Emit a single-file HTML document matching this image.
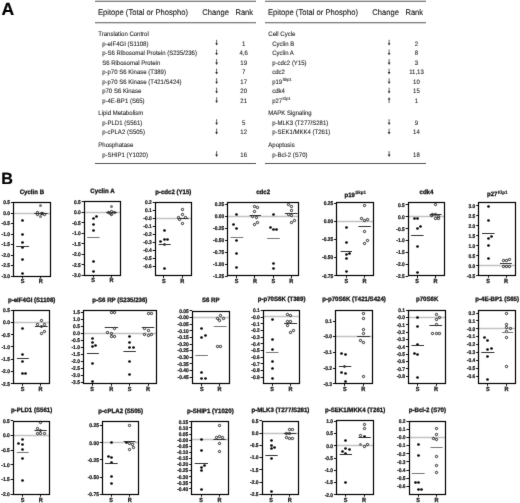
<!DOCTYPE html>
<html><head><meta charset="utf-8"><title>Figure</title>
<style>
html,body{margin:0;padding:0;background:#fff;}
body{width:520px;height:503px;overflow:hidden;}
svg{display:block;font-family:'Liberation Sans', sans-serif;text-rendering:geometricPrecision;}
</style></head><body>
<svg width="520" height="503" viewBox="0 0 520 503" font-family="Liberation Sans, sans-serif">
<defs><filter id="bl" x="0" y="0" width="520" height="503" filterUnits="userSpaceOnUse" color-interpolation-filters="sRGB"><feColorMatrix type="saturate" values="0"/><feConvolveMatrix order="3" kernelMatrix="1 10 1 10 100 10 1 10 1" divisor="144" edgeMode="duplicate"/></filter></defs>
<g filter="url(#bl)">
<rect x="0" y="0" width="520" height="503" fill="#fff"/>
<text transform="translate(1.60,14.60) scale(1,1.0)" font-size="17.6" font-weight="bold" text-anchor="start" fill="#000" stroke="#000" stroke-width="0.2">A</text>
<text transform="translate(1.20,183.90) scale(1,1.0)" font-size="16.2" font-weight="bold" text-anchor="start" fill="#000" stroke="#000" stroke-width="0.2">B</text>
<line x1="95.00" y1="1.30" x2="256.00" y2="1.30" stroke="#555" stroke-width="1.1"/>
<line x1="95.00" y1="22.70" x2="256.00" y2="22.70" stroke="#555" stroke-width="1.1"/>
<line x1="95.00" y1="163.50" x2="256.00" y2="163.50" stroke="#555" stroke-width="1.1"/>
<text transform="translate(98.00,15.20) scale(1,1.08)" font-size="7.6" font-weight="normal" text-anchor="start" fill="#111" stroke="#111" stroke-width="0.08">Epitope (Total or Phospho)</text>
<text transform="translate(202.30,15.20) scale(1,1.08)" font-size="7.6" font-weight="normal" text-anchor="start" fill="#111" stroke="#111" stroke-width="0.08">Change</text>
<text transform="translate(235.40,15.20) scale(1,1.08)" font-size="7.6" font-weight="normal" text-anchor="start" fill="#111" stroke="#111" stroke-width="0.08">Rank</text>
<text transform="translate(98.30,35.80) scale(1,1.08)" font-size="6.0" font-weight="normal" text-anchor="start" fill="#1a1a1a" stroke="#1a1a1a" stroke-width="0.08">Translation Control</text>
<text transform="translate(102.20,45.50) scale(1,1.08)" font-size="6.0" font-weight="normal" text-anchor="start" fill="#1a1a1a" stroke="#1a1a1a" stroke-width="0.08">p-eIF4GI (S1108)</text>
<line x1="216.60" y1="39.80" x2="216.60" y2="44.00" stroke="#444" stroke-width="0.85"/>
<path d="M215.20,43.30 L218.00,43.30 L216.60,45.60 Z" fill="#2a2a2a"/>
<text transform="translate(243.70,45.50) scale(1,1.08)" font-size="6.0" font-weight="normal" text-anchor="middle" fill="#1a1a1a" stroke="#1a1a1a" stroke-width="0.08">1</text>
<text transform="translate(102.20,55.20) scale(1,1.08)" font-size="6.0" font-weight="normal" text-anchor="start" fill="#1a1a1a" stroke="#1a1a1a" stroke-width="0.08">p-S6 Ribosomal Protein (S235/236)</text>
<line x1="216.60" y1="49.50" x2="216.60" y2="53.70" stroke="#444" stroke-width="0.85"/>
<path d="M215.20,53.00 L218.00,53.00 L216.60,55.30 Z" fill="#2a2a2a"/>
<text transform="translate(243.70,55.20) scale(1,1.08)" font-size="6.0" font-weight="normal" text-anchor="middle" fill="#1a1a1a" stroke="#1a1a1a" stroke-width="0.08">4,6</text>
<text transform="translate(102.20,64.80) scale(1,1.08)" font-size="6.0" font-weight="normal" text-anchor="start" fill="#1a1a1a" stroke="#1a1a1a" stroke-width="0.08">S6 Ribosomal Protein</text>
<line x1="216.60" y1="59.10" x2="216.60" y2="63.30" stroke="#444" stroke-width="0.85"/>
<path d="M215.20,62.60 L218.00,62.60 L216.60,64.90 Z" fill="#2a2a2a"/>
<text transform="translate(243.70,64.80) scale(1,1.08)" font-size="6.0" font-weight="normal" text-anchor="middle" fill="#1a1a1a" stroke="#1a1a1a" stroke-width="0.08">19</text>
<text transform="translate(102.20,74.30) scale(1,1.08)" font-size="6.0" font-weight="normal" text-anchor="start" fill="#1a1a1a" stroke="#1a1a1a" stroke-width="0.08">p-p70 S6 Kinase (T389)</text>
<line x1="216.60" y1="68.60" x2="216.60" y2="72.80" stroke="#444" stroke-width="0.85"/>
<path d="M215.20,72.10 L218.00,72.10 L216.60,74.40 Z" fill="#2a2a2a"/>
<text transform="translate(243.70,74.30) scale(1,1.08)" font-size="6.0" font-weight="normal" text-anchor="middle" fill="#1a1a1a" stroke="#1a1a1a" stroke-width="0.08">7</text>
<text transform="translate(102.20,83.90) scale(1,1.08)" font-size="6.0" font-weight="normal" text-anchor="start" fill="#1a1a1a" stroke="#1a1a1a" stroke-width="0.08">p-p70 S6 Kinase (T421/S424)</text>
<line x1="216.60" y1="78.20" x2="216.60" y2="82.40" stroke="#444" stroke-width="0.85"/>
<path d="M215.20,81.70 L218.00,81.70 L216.60,84.00 Z" fill="#2a2a2a"/>
<text transform="translate(243.70,83.90) scale(1,1.08)" font-size="6.0" font-weight="normal" text-anchor="middle" fill="#1a1a1a" stroke="#1a1a1a" stroke-width="0.08">17</text>
<text transform="translate(102.20,93.40) scale(1,1.08)" font-size="6.0" font-weight="normal" text-anchor="start" fill="#1a1a1a" stroke="#1a1a1a" stroke-width="0.08">p70 S6 Kinase</text>
<line x1="216.60" y1="87.70" x2="216.60" y2="91.90" stroke="#444" stroke-width="0.85"/>
<path d="M215.20,91.20 L218.00,91.20 L216.60,93.50 Z" fill="#2a2a2a"/>
<text transform="translate(243.70,93.40) scale(1,1.08)" font-size="6.0" font-weight="normal" text-anchor="middle" fill="#1a1a1a" stroke="#1a1a1a" stroke-width="0.08">20</text>
<text transform="translate(102.20,103.00) scale(1,1.08)" font-size="6.0" font-weight="normal" text-anchor="start" fill="#1a1a1a" stroke="#1a1a1a" stroke-width="0.08">p-4E-BP1 (S65)</text>
<line x1="216.60" y1="97.30" x2="216.60" y2="101.50" stroke="#444" stroke-width="0.85"/>
<path d="M215.20,100.80 L218.00,100.80 L216.60,103.10 Z" fill="#2a2a2a"/>
<text transform="translate(243.70,103.00) scale(1,1.08)" font-size="6.0" font-weight="normal" text-anchor="middle" fill="#1a1a1a" stroke="#1a1a1a" stroke-width="0.08">21</text>
<text transform="translate(98.30,115.00) scale(1,1.08)" font-size="6.0" font-weight="normal" text-anchor="start" fill="#1a1a1a" stroke="#1a1a1a" stroke-width="0.08">Lipid Metabolism</text>
<text transform="translate(102.20,124.90) scale(1,1.08)" font-size="6.0" font-weight="normal" text-anchor="start" fill="#1a1a1a" stroke="#1a1a1a" stroke-width="0.08">p-PLD1 (S561)</text>
<line x1="216.60" y1="119.20" x2="216.60" y2="123.40" stroke="#444" stroke-width="0.85"/>
<path d="M215.20,122.70 L218.00,122.70 L216.60,125.00 Z" fill="#2a2a2a"/>
<text transform="translate(243.70,124.90) scale(1,1.08)" font-size="6.0" font-weight="normal" text-anchor="middle" fill="#1a1a1a" stroke="#1a1a1a" stroke-width="0.08">5</text>
<text transform="translate(102.20,134.30) scale(1,1.08)" font-size="6.0" font-weight="normal" text-anchor="start" fill="#1a1a1a" stroke="#1a1a1a" stroke-width="0.08">p-cPLA2 (S505)</text>
<line x1="216.60" y1="128.60" x2="216.60" y2="132.80" stroke="#444" stroke-width="0.85"/>
<path d="M215.20,132.10 L218.00,132.10 L216.60,134.40 Z" fill="#2a2a2a"/>
<text transform="translate(243.70,134.30) scale(1,1.08)" font-size="6.0" font-weight="normal" text-anchor="middle" fill="#1a1a1a" stroke="#1a1a1a" stroke-width="0.08">12</text>
<text transform="translate(98.30,146.80) scale(1,1.08)" font-size="6.0" font-weight="normal" text-anchor="start" fill="#1a1a1a" stroke="#1a1a1a" stroke-width="0.08">Phosphatase</text>
<text transform="translate(102.20,156.80) scale(1,1.08)" font-size="6.0" font-weight="normal" text-anchor="start" fill="#1a1a1a" stroke="#1a1a1a" stroke-width="0.08">p-SHIP1 (Y1020)</text>
<line x1="216.60" y1="151.10" x2="216.60" y2="155.30" stroke="#444" stroke-width="0.85"/>
<path d="M215.20,154.60 L218.00,154.60 L216.60,156.90 Z" fill="#2a2a2a"/>
<text transform="translate(243.70,156.80) scale(1,1.08)" font-size="6.0" font-weight="normal" text-anchor="middle" fill="#1a1a1a" stroke="#1a1a1a" stroke-width="0.08">16</text>
<line x1="265.00" y1="1.30" x2="426.00" y2="1.30" stroke="#555" stroke-width="1.1"/>
<line x1="265.00" y1="22.70" x2="426.00" y2="22.70" stroke="#555" stroke-width="1.1"/>
<line x1="265.00" y1="163.50" x2="426.00" y2="163.50" stroke="#555" stroke-width="1.1"/>
<text transform="translate(268.00,15.20) scale(1,1.08)" font-size="7.6" font-weight="normal" text-anchor="start" fill="#111" stroke="#111" stroke-width="0.08">Epitope (Total or Phospho)</text>
<text transform="translate(372.30,15.20) scale(1,1.08)" font-size="7.6" font-weight="normal" text-anchor="start" fill="#111" stroke="#111" stroke-width="0.08">Change</text>
<text transform="translate(405.40,15.20) scale(1,1.08)" font-size="7.6" font-weight="normal" text-anchor="start" fill="#111" stroke="#111" stroke-width="0.08">Rank</text>
<text transform="translate(268.30,35.80) scale(1,1.08)" font-size="6.0" font-weight="normal" text-anchor="start" fill="#1a1a1a" stroke="#1a1a1a" stroke-width="0.08">Cell Cycle</text>
<text transform="translate(272.20,45.50) scale(1,1.08)" font-size="6.0" font-weight="normal" text-anchor="start" fill="#1a1a1a" stroke="#1a1a1a" stroke-width="0.08">Cyclin B</text>
<line x1="389.10" y1="39.80" x2="389.10" y2="44.00" stroke="#444" stroke-width="0.85"/>
<path d="M387.70,43.30 L390.50,43.30 L389.10,45.60 Z" fill="#2a2a2a"/>
<text transform="translate(416.45,45.50) scale(1,1.08)" font-size="6.0" font-weight="normal" text-anchor="middle" fill="#1a1a1a" stroke="#1a1a1a" stroke-width="0.08">2</text>
<text transform="translate(272.20,55.20) scale(1,1.08)" font-size="6.0" font-weight="normal" text-anchor="start" fill="#1a1a1a" stroke="#1a1a1a" stroke-width="0.08">Cyclin A</text>
<line x1="389.10" y1="49.50" x2="389.10" y2="53.70" stroke="#444" stroke-width="0.85"/>
<path d="M387.70,53.00 L390.50,53.00 L389.10,55.30 Z" fill="#2a2a2a"/>
<text transform="translate(416.45,55.20) scale(1,1.08)" font-size="6.0" font-weight="normal" text-anchor="middle" fill="#1a1a1a" stroke="#1a1a1a" stroke-width="0.08">8</text>
<text transform="translate(272.20,64.80) scale(1,1.08)" font-size="6.0" font-weight="normal" text-anchor="start" fill="#1a1a1a" stroke="#1a1a1a" stroke-width="0.08">p-cdc2 (Y15)</text>
<line x1="389.10" y1="59.10" x2="389.10" y2="63.30" stroke="#444" stroke-width="0.85"/>
<path d="M387.70,62.60 L390.50,62.60 L389.10,64.90 Z" fill="#2a2a2a"/>
<text transform="translate(416.45,64.80) scale(1,1.08)" font-size="6.0" font-weight="normal" text-anchor="middle" fill="#1a1a1a" stroke="#1a1a1a" stroke-width="0.08">3</text>
<text transform="translate(272.20,74.30) scale(1,1.08)" font-size="6.0" font-weight="normal" text-anchor="start" fill="#1a1a1a" stroke="#1a1a1a" stroke-width="0.08">cdc2</text>
<line x1="389.10" y1="68.60" x2="389.10" y2="72.80" stroke="#444" stroke-width="0.85"/>
<path d="M387.70,72.10 L390.50,72.10 L389.10,74.40 Z" fill="#2a2a2a"/>
<text transform="translate(416.45,74.30) scale(1,1.08)" font-size="6.0" font-weight="normal" text-anchor="middle" fill="#1a1a1a" stroke="#1a1a1a" stroke-width="0.08">11,13</text>
<text transform="translate(272.20,83.90) scale(1,1.08)" font-size="6.0" font-weight="normal" text-anchor="start" fill="#1a1a1a" stroke="#1a1a1a" stroke-width="0.08">p19<tspan font-size="4.1" dx="0.3" dy="-2.4">Skp1</tspan></text>
<line x1="389.10" y1="78.20" x2="389.10" y2="82.40" stroke="#444" stroke-width="0.85"/>
<path d="M387.70,81.70 L390.50,81.70 L389.10,84.00 Z" fill="#2a2a2a"/>
<text transform="translate(416.45,83.90) scale(1,1.08)" font-size="6.0" font-weight="normal" text-anchor="middle" fill="#1a1a1a" stroke="#1a1a1a" stroke-width="0.08">10</text>
<text transform="translate(272.20,93.40) scale(1,1.08)" font-size="6.0" font-weight="normal" text-anchor="start" fill="#1a1a1a" stroke="#1a1a1a" stroke-width="0.08">cdk4</text>
<line x1="389.10" y1="87.70" x2="389.10" y2="91.90" stroke="#444" stroke-width="0.85"/>
<path d="M387.70,91.20 L390.50,91.20 L389.10,93.50 Z" fill="#2a2a2a"/>
<text transform="translate(416.45,93.40) scale(1,1.08)" font-size="6.0" font-weight="normal" text-anchor="middle" fill="#1a1a1a" stroke="#1a1a1a" stroke-width="0.08">15</text>
<text transform="translate(272.20,103.00) scale(1,1.08)" font-size="6.0" font-weight="normal" text-anchor="start" fill="#1a1a1a" stroke="#1a1a1a" stroke-width="0.08">p27<tspan font-size="4.1" dx="0.3" dy="-2.4">Kip1</tspan></text>
<line x1="389.10" y1="99.00" x2="389.10" y2="103.10" stroke="#444" stroke-width="0.85"/>
<path d="M387.70,99.50 L390.50,99.50 L389.10,97.20 Z" fill="#2a2a2a"/>
<text transform="translate(416.45,103.00) scale(1,1.08)" font-size="6.0" font-weight="normal" text-anchor="middle" fill="#1a1a1a" stroke="#1a1a1a" stroke-width="0.08">1</text>
<text transform="translate(268.30,115.00) scale(1,1.08)" font-size="6.0" font-weight="normal" text-anchor="start" fill="#1a1a1a" stroke="#1a1a1a" stroke-width="0.08">MAPK Signaling</text>
<text transform="translate(272.20,124.90) scale(1,1.08)" font-size="6.0" font-weight="normal" text-anchor="start" fill="#1a1a1a" stroke="#1a1a1a" stroke-width="0.08">p-MLK3 (T277/S281)</text>
<line x1="389.10" y1="119.20" x2="389.10" y2="123.40" stroke="#444" stroke-width="0.85"/>
<path d="M387.70,122.70 L390.50,122.70 L389.10,125.00 Z" fill="#2a2a2a"/>
<text transform="translate(416.45,124.90) scale(1,1.08)" font-size="6.0" font-weight="normal" text-anchor="middle" fill="#1a1a1a" stroke="#1a1a1a" stroke-width="0.08">9</text>
<text transform="translate(272.20,134.30) scale(1,1.08)" font-size="6.0" font-weight="normal" text-anchor="start" fill="#1a1a1a" stroke="#1a1a1a" stroke-width="0.08">p-SEK1/MKK4 (T261)</text>
<line x1="389.10" y1="128.60" x2="389.10" y2="132.80" stroke="#444" stroke-width="0.85"/>
<path d="M387.70,132.10 L390.50,132.10 L389.10,134.40 Z" fill="#2a2a2a"/>
<text transform="translate(416.45,134.30) scale(1,1.08)" font-size="6.0" font-weight="normal" text-anchor="middle" fill="#1a1a1a" stroke="#1a1a1a" stroke-width="0.08">14</text>
<text transform="translate(268.30,146.80) scale(1,1.08)" font-size="6.0" font-weight="normal" text-anchor="start" fill="#1a1a1a" stroke="#1a1a1a" stroke-width="0.08">Apoptosis</text>
<text transform="translate(272.20,156.80) scale(1,1.08)" font-size="6.0" font-weight="normal" text-anchor="start" fill="#1a1a1a" stroke="#1a1a1a" stroke-width="0.08">p-Bcl-2 (S70)</text>
<line x1="389.10" y1="151.10" x2="389.10" y2="155.30" stroke="#444" stroke-width="0.85"/>
<path d="M387.70,154.60 L390.50,154.60 L389.10,156.90 Z" fill="#2a2a2a"/>
<text transform="translate(416.45,156.80) scale(1,1.08)" font-size="6.0" font-weight="normal" text-anchor="middle" fill="#1a1a1a" stroke="#1a1a1a" stroke-width="0.08">18</text>
<text transform="translate(31.85,193.90) scale(1,1.04)" font-size="6.1" font-weight="bold" text-anchor="middle" fill="#111" stroke="#111" stroke-width="0.28">Cyclin B</text>
<line x1="13.50" y1="213.50" x2="50.20" y2="213.50" stroke="#c2c2c2" stroke-width="1.5"/>
<line x1="10.90" y1="202.50" x2="13.50" y2="202.50" stroke="#111" stroke-width="1.0"/>
<text transform="translate(10.00,204.40) scale(1,1.08)" font-size="4.9" font-weight="bold" text-anchor="end" fill="#111" stroke="#111" stroke-width="0.2">0.5</text>
<line x1="10.90" y1="213.50" x2="13.50" y2="213.50" stroke="#111" stroke-width="1.0"/>
<text transform="translate(10.00,214.90) scale(1,1.08)" font-size="4.9" font-weight="bold" text-anchor="end" fill="#111" stroke="#111" stroke-width="0.2">0.0</text>
<line x1="10.90" y1="223.50" x2="13.50" y2="223.50" stroke="#111" stroke-width="1.0"/>
<text transform="translate(10.00,225.40) scale(1,1.08)" font-size="4.9" font-weight="bold" text-anchor="end" fill="#111" stroke="#111" stroke-width="0.2">-0.5</text>
<line x1="10.90" y1="234.50" x2="13.50" y2="234.50" stroke="#111" stroke-width="1.0"/>
<text transform="translate(10.00,235.90) scale(1,1.08)" font-size="4.9" font-weight="bold" text-anchor="end" fill="#111" stroke="#111" stroke-width="0.2">-1.0</text>
<line x1="10.90" y1="244.50" x2="13.50" y2="244.50" stroke="#111" stroke-width="1.0"/>
<text transform="translate(10.00,246.40) scale(1,1.08)" font-size="4.9" font-weight="bold" text-anchor="end" fill="#111" stroke="#111" stroke-width="0.2">-1.5</text>
<line x1="10.90" y1="255.50" x2="13.50" y2="255.50" stroke="#111" stroke-width="1.0"/>
<text transform="translate(10.00,256.90) scale(1,1.08)" font-size="4.9" font-weight="bold" text-anchor="end" fill="#111" stroke="#111" stroke-width="0.2">-2.0</text>
<line x1="10.90" y1="265.50" x2="13.50" y2="265.50" stroke="#111" stroke-width="1.0"/>
<text transform="translate(10.00,267.40) scale(1,1.08)" font-size="4.9" font-weight="bold" text-anchor="end" fill="#111" stroke="#111" stroke-width="0.2">-2.5</text>
<line x1="10.90" y1="276.50" x2="13.50" y2="276.50" stroke="#111" stroke-width="1.0"/>
<text transform="translate(10.00,277.90) scale(1,1.08)" font-size="4.9" font-weight="bold" text-anchor="end" fill="#111" stroke="#111" stroke-width="0.2">-3.0</text>
<line x1="22.50" y1="276.10" x2="22.50" y2="278.30" stroke="#111" stroke-width="1.0"/>
<text transform="translate(22.50,283.10) scale(1,1.08)" font-size="5.6" font-weight="bold" text-anchor="middle" fill="#1a1a1a" stroke="#1a1a1a" stroke-width="0.25">S</text>
<line x1="40.50" y1="276.10" x2="40.50" y2="278.30" stroke="#111" stroke-width="1.0"/>
<text transform="translate(40.70,283.10) scale(1,1.08)" font-size="5.6" font-weight="bold" text-anchor="middle" fill="#1a1a1a" stroke="#1a1a1a" stroke-width="0.25">R</text>
<circle cx="22.50" cy="220.50" r="1.35" fill="#000"/>
<circle cx="22.50" cy="234.50" r="1.35" fill="#000"/>
<circle cx="22.50" cy="242.50" r="1.35" fill="#000"/>
<circle cx="22.50" cy="247.50" r="1.35" fill="#000"/>
<circle cx="22.50" cy="259.50" r="1.35" fill="#000"/>
<circle cx="22.50" cy="273.50" r="1.35" fill="#000"/>
<circle cx="40.50" cy="205.50" r="1.5" fill="#777"/>
<circle cx="37.50" cy="212.50" r="1.15" fill="none" stroke="#111" stroke-width="0.9"/>
<circle cx="37.50" cy="214.50" r="1.15" fill="none" stroke="#111" stroke-width="0.9"/>
<circle cx="41.50" cy="213.50" r="1.15" fill="none" stroke="#111" stroke-width="0.9"/>
<circle cx="42.50" cy="213.50" r="1.15" fill="none" stroke="#111" stroke-width="0.9"/>
<circle cx="44.50" cy="214.50" r="1.15" fill="none" stroke="#111" stroke-width="0.9"/>
<circle cx="40.50" cy="216.50" r="1.5" fill="#777"/>
<line x1="16.20" y1="246.50" x2="29.10" y2="246.50" stroke="#333" stroke-width="1.0"/>
<line x1="34.20" y1="213.50" x2="47.60" y2="213.50" stroke="#333" stroke-width="1.0"/>
<rect x="13.50" y="202.50" width="37.00" height="74.00" fill="none" stroke="#000" stroke-width="1.2"/>
<text transform="translate(102.45,193.00) scale(1,1.04)" font-size="6.1" font-weight="bold" text-anchor="middle" fill="#111" stroke="#111" stroke-width="0.28">Cyclin A</text>
<line x1="84.20" y1="212.50" x2="120.70" y2="212.50" stroke="#c2c2c2" stroke-width="1.5"/>
<line x1="81.60" y1="201.50" x2="84.20" y2="201.50" stroke="#111" stroke-width="1.0"/>
<text transform="translate(80.70,203.60) scale(1,1.08)" font-size="4.9" font-weight="bold" text-anchor="end" fill="#111" stroke="#111" stroke-width="0.2">0.5</text>
<line x1="81.60" y1="212.50" x2="84.20" y2="212.50" stroke="#111" stroke-width="1.0"/>
<text transform="translate(80.70,214.09) scale(1,1.08)" font-size="4.9" font-weight="bold" text-anchor="end" fill="#111" stroke="#111" stroke-width="0.2">0.0</text>
<line x1="81.60" y1="222.50" x2="84.20" y2="222.50" stroke="#111" stroke-width="1.0"/>
<text transform="translate(80.70,224.58) scale(1,1.08)" font-size="4.9" font-weight="bold" text-anchor="end" fill="#111" stroke="#111" stroke-width="0.2">-0.5</text>
<line x1="81.60" y1="233.50" x2="84.20" y2="233.50" stroke="#111" stroke-width="1.0"/>
<text transform="translate(80.70,235.07) scale(1,1.08)" font-size="4.9" font-weight="bold" text-anchor="end" fill="#111" stroke="#111" stroke-width="0.2">-1.0</text>
<line x1="81.60" y1="243.50" x2="84.20" y2="243.50" stroke="#111" stroke-width="1.0"/>
<text transform="translate(80.70,245.56) scale(1,1.08)" font-size="4.9" font-weight="bold" text-anchor="end" fill="#111" stroke="#111" stroke-width="0.2">-1.5</text>
<line x1="81.60" y1="254.50" x2="84.20" y2="254.50" stroke="#111" stroke-width="1.0"/>
<text transform="translate(80.70,256.05) scale(1,1.08)" font-size="4.9" font-weight="bold" text-anchor="end" fill="#111" stroke="#111" stroke-width="0.2">-2.0</text>
<line x1="81.60" y1="264.50" x2="84.20" y2="264.50" stroke="#111" stroke-width="1.0"/>
<text transform="translate(80.70,266.54) scale(1,1.08)" font-size="4.9" font-weight="bold" text-anchor="end" fill="#111" stroke="#111" stroke-width="0.2">-2.5</text>
<line x1="81.60" y1="275.50" x2="84.20" y2="275.50" stroke="#111" stroke-width="1.0"/>
<text transform="translate(80.70,277.03) scale(1,1.08)" font-size="4.9" font-weight="bold" text-anchor="end" fill="#111" stroke="#111" stroke-width="0.2">-3.0</text>
<line x1="93.50" y1="275.20" x2="93.50" y2="277.40" stroke="#111" stroke-width="1.0"/>
<text transform="translate(93.20,282.20) scale(1,1.08)" font-size="5.6" font-weight="bold" text-anchor="middle" fill="#1a1a1a" stroke="#1a1a1a" stroke-width="0.25">S</text>
<line x1="111.50" y1="275.20" x2="111.50" y2="277.40" stroke="#111" stroke-width="1.0"/>
<text transform="translate(111.50,282.20) scale(1,1.08)" font-size="5.6" font-weight="bold" text-anchor="middle" fill="#1a1a1a" stroke="#1a1a1a" stroke-width="0.25">R</text>
<circle cx="93.50" cy="218.50" r="1.35" fill="#000"/>
<circle cx="96.50" cy="216.50" r="1.35" fill="#000"/>
<circle cx="93.50" cy="224.50" r="1.35" fill="#000"/>
<circle cx="93.50" cy="230.50" r="1.35" fill="#000"/>
<circle cx="93.50" cy="261.50" r="1.35" fill="#000"/>
<circle cx="93.50" cy="271.50" r="1.35" fill="#000"/>
<circle cx="111.50" cy="206.50" r="1.5" fill="#777"/>
<circle cx="108.50" cy="212.50" r="1.15" fill="none" stroke="#111" stroke-width="0.9"/>
<circle cx="111.50" cy="211.50" r="1.15" fill="none" stroke="#111" stroke-width="0.9"/>
<circle cx="114.50" cy="212.50" r="1.15" fill="none" stroke="#111" stroke-width="0.9"/>
<circle cx="111.50" cy="214.50" r="1.15" fill="none" stroke="#111" stroke-width="0.9"/>
<circle cx="110.50" cy="213.50" r="1.15" fill="none" stroke="#111" stroke-width="0.9"/>
<line x1="87.20" y1="237.50" x2="99.60" y2="237.50" stroke="#777" stroke-width="1.0"/>
<line x1="106.00" y1="212.50" x2="117.00" y2="212.50" stroke="#333" stroke-width="1.0"/>
<rect x="84.50" y="201.50" width="36.00" height="74.00" fill="none" stroke="#000" stroke-width="1.2"/>
<text transform="translate(173.25,193.60) scale(1,1.04)" font-size="6.1" font-weight="bold" text-anchor="middle" fill="#111" stroke="#111" stroke-width="0.28">p-cdc2 (Y15)</text>
<line x1="155.30" y1="218.50" x2="191.20" y2="218.50" stroke="#c2c2c2" stroke-width="1.5"/>
<line x1="152.70" y1="202.50" x2="155.30" y2="202.50" stroke="#111" stroke-width="1.0"/>
<text transform="translate(151.80,204.30) scale(1,1.08)" font-size="4.9" font-weight="bold" text-anchor="end" fill="#111" stroke="#111" stroke-width="0.2">0.2</text>
<line x1="152.70" y1="210.50" x2="155.30" y2="210.50" stroke="#111" stroke-width="1.0"/>
<text transform="translate(151.80,212.25) scale(1,1.08)" font-size="4.9" font-weight="bold" text-anchor="end" fill="#111" stroke="#111" stroke-width="0.2">0.1</text>
<line x1="152.70" y1="218.50" x2="155.30" y2="218.50" stroke="#111" stroke-width="1.0"/>
<text transform="translate(151.80,220.20) scale(1,1.08)" font-size="4.9" font-weight="bold" text-anchor="end" fill="#111" stroke="#111" stroke-width="0.2">-0.0</text>
<line x1="152.70" y1="226.50" x2="155.30" y2="226.50" stroke="#111" stroke-width="1.0"/>
<text transform="translate(151.80,228.15) scale(1,1.08)" font-size="4.9" font-weight="bold" text-anchor="end" fill="#111" stroke="#111" stroke-width="0.2">-0.1</text>
<line x1="152.70" y1="234.50" x2="155.30" y2="234.50" stroke="#111" stroke-width="1.0"/>
<text transform="translate(151.80,236.10) scale(1,1.08)" font-size="4.9" font-weight="bold" text-anchor="end" fill="#111" stroke="#111" stroke-width="0.2">-0.2</text>
<line x1="152.70" y1="242.50" x2="155.30" y2="242.50" stroke="#111" stroke-width="1.0"/>
<text transform="translate(151.80,244.05) scale(1,1.08)" font-size="4.9" font-weight="bold" text-anchor="end" fill="#111" stroke="#111" stroke-width="0.2">-0.3</text>
<line x1="152.70" y1="250.50" x2="155.30" y2="250.50" stroke="#111" stroke-width="1.0"/>
<text transform="translate(151.80,252.00) scale(1,1.08)" font-size="4.9" font-weight="bold" text-anchor="end" fill="#111" stroke="#111" stroke-width="0.2">-0.4</text>
<line x1="152.70" y1="258.50" x2="155.30" y2="258.50" stroke="#111" stroke-width="1.0"/>
<text transform="translate(151.80,259.95) scale(1,1.08)" font-size="4.9" font-weight="bold" text-anchor="end" fill="#111" stroke="#111" stroke-width="0.2">-0.5</text>
<line x1="152.70" y1="266.50" x2="155.30" y2="266.50" stroke="#111" stroke-width="1.0"/>
<text transform="translate(151.80,267.90) scale(1,1.08)" font-size="4.9" font-weight="bold" text-anchor="end" fill="#111" stroke="#111" stroke-width="0.2">-0.6</text>
<line x1="163.50" y1="275.70" x2="163.50" y2="277.90" stroke="#111" stroke-width="1.0"/>
<text transform="translate(163.90,282.70) scale(1,1.08)" font-size="5.6" font-weight="bold" text-anchor="middle" fill="#1a1a1a" stroke="#1a1a1a" stroke-width="0.25">S</text>
<line x1="182.50" y1="275.70" x2="182.50" y2="277.90" stroke="#111" stroke-width="1.0"/>
<text transform="translate(182.20,282.70) scale(1,1.08)" font-size="5.6" font-weight="bold" text-anchor="middle" fill="#1a1a1a" stroke="#1a1a1a" stroke-width="0.25">R</text>
<circle cx="164.50" cy="230.50" r="1.35" fill="#000"/>
<circle cx="160.50" cy="241.50" r="1.35" fill="#000"/>
<circle cx="164.50" cy="239.50" r="1.35" fill="#000"/>
<circle cx="167.50" cy="239.50" r="1.35" fill="#000"/>
<circle cx="164.50" cy="244.50" r="1.35" fill="#000"/>
<circle cx="164.50" cy="268.50" r="1.35" fill="#000"/>
<circle cx="182.50" cy="209.50" r="1.15" fill="none" stroke="#111" stroke-width="0.9"/>
<circle cx="182.50" cy="214.50" r="1.15" fill="none" stroke="#111" stroke-width="0.9"/>
<circle cx="178.50" cy="217.50" r="1.15" fill="none" stroke="#111" stroke-width="0.9"/>
<circle cx="185.50" cy="217.50" r="1.15" fill="none" stroke="#111" stroke-width="0.9"/>
<circle cx="179.50" cy="219.50" r="1.15" fill="none" stroke="#111" stroke-width="0.9"/>
<circle cx="182.50" cy="223.50" r="1.15" fill="none" stroke="#111" stroke-width="0.9"/>
<line x1="158.70" y1="244.50" x2="170.70" y2="244.50" stroke="#333" stroke-width="1.0"/>
<line x1="177.60" y1="218.50" x2="188.50" y2="218.50" stroke="#333" stroke-width="1.0"/>
<rect x="155.50" y="202.50" width="36.00" height="73.00" fill="none" stroke="#000" stroke-width="1.2"/>
<text transform="translate(263.10,193.80) scale(1,1.04)" font-size="6.1" font-weight="bold" text-anchor="middle" fill="#111" stroke="#111" stroke-width="0.28">cdc2</text>
<line x1="227.70" y1="216.50" x2="298.50" y2="216.50" stroke="#c2c2c2" stroke-width="1.5"/>
<line x1="225.10" y1="204.50" x2="227.70" y2="204.50" stroke="#111" stroke-width="1.0"/>
<text transform="translate(224.20,206.30) scale(1,1.08)" font-size="4.9" font-weight="bold" text-anchor="end" fill="#111" stroke="#111" stroke-width="0.2">0.25</text>
<line x1="225.10" y1="216.50" x2="227.70" y2="216.50" stroke="#111" stroke-width="1.0"/>
<text transform="translate(224.20,218.28) scale(1,1.08)" font-size="4.9" font-weight="bold" text-anchor="end" fill="#111" stroke="#111" stroke-width="0.2">0.00</text>
<line x1="225.10" y1="228.50" x2="227.70" y2="228.50" stroke="#111" stroke-width="1.0"/>
<text transform="translate(224.20,230.26) scale(1,1.08)" font-size="4.9" font-weight="bold" text-anchor="end" fill="#111" stroke="#111" stroke-width="0.2">-0.25</text>
<line x1="225.10" y1="240.50" x2="227.70" y2="240.50" stroke="#111" stroke-width="1.0"/>
<text transform="translate(224.20,242.24) scale(1,1.08)" font-size="4.9" font-weight="bold" text-anchor="end" fill="#111" stroke="#111" stroke-width="0.2">-0.50</text>
<line x1="225.10" y1="252.50" x2="227.70" y2="252.50" stroke="#111" stroke-width="1.0"/>
<text transform="translate(224.20,254.22) scale(1,1.08)" font-size="4.9" font-weight="bold" text-anchor="end" fill="#111" stroke="#111" stroke-width="0.2">-0.75</text>
<line x1="225.10" y1="264.50" x2="227.70" y2="264.50" stroke="#111" stroke-width="1.0"/>
<text transform="translate(224.20,266.20) scale(1,1.08)" font-size="4.9" font-weight="bold" text-anchor="end" fill="#111" stroke="#111" stroke-width="0.2">-1.00</text>
<line x1="225.10" y1="276.50" x2="227.70" y2="276.50" stroke="#111" stroke-width="1.0"/>
<text transform="translate(224.20,278.18) scale(1,1.08)" font-size="4.9" font-weight="bold" text-anchor="end" fill="#111" stroke="#111" stroke-width="0.2">-1.25</text>
<line x1="236.50" y1="275.90" x2="236.50" y2="278.10" stroke="#111" stroke-width="1.0"/>
<text transform="translate(236.70,282.90) scale(1,1.08)" font-size="5.6" font-weight="bold" text-anchor="middle" fill="#1a1a1a" stroke="#1a1a1a" stroke-width="0.25">S</text>
<line x1="254.50" y1="275.90" x2="254.50" y2="278.10" stroke="#111" stroke-width="1.0"/>
<text transform="translate(254.90,282.90) scale(1,1.08)" font-size="5.6" font-weight="bold" text-anchor="middle" fill="#1a1a1a" stroke="#1a1a1a" stroke-width="0.25">R</text>
<line x1="273.50" y1="275.90" x2="273.50" y2="278.10" stroke="#111" stroke-width="1.0"/>
<text transform="translate(273.30,282.90) scale(1,1.08)" font-size="5.6" font-weight="bold" text-anchor="middle" fill="#1a1a1a" stroke="#1a1a1a" stroke-width="0.25">S</text>
<line x1="291.50" y1="275.90" x2="291.50" y2="278.10" stroke="#111" stroke-width="1.0"/>
<text transform="translate(291.30,282.90) scale(1,1.08)" font-size="5.6" font-weight="bold" text-anchor="middle" fill="#1a1a1a" stroke="#1a1a1a" stroke-width="0.25">R</text>
<circle cx="236.50" cy="214.50" r="1.35" fill="#000"/>
<circle cx="233.50" cy="224.50" r="1.35" fill="#000"/>
<circle cx="236.50" cy="228.50" r="1.35" fill="#000"/>
<circle cx="236.50" cy="240.50" r="1.35" fill="#000"/>
<circle cx="236.50" cy="253.50" r="1.35" fill="#000"/>
<circle cx="236.50" cy="267.50" r="1.35" fill="#000"/>
<circle cx="254.50" cy="206.50" r="1.15" fill="none" stroke="#111" stroke-width="0.9"/>
<circle cx="257.50" cy="207.50" r="1.15" fill="none" stroke="#111" stroke-width="0.9"/>
<circle cx="254.50" cy="211.50" r="1.15" fill="none" stroke="#111" stroke-width="0.9"/>
<circle cx="252.50" cy="216.50" r="1.15" fill="none" stroke="#111" stroke-width="0.9"/>
<circle cx="256.50" cy="217.50" r="1.15" fill="none" stroke="#111" stroke-width="0.9"/>
<circle cx="257.50" cy="222.50" r="1.15" fill="none" stroke="#111" stroke-width="0.9"/>
<circle cx="254.50" cy="224.50" r="1.15" fill="none" stroke="#111" stroke-width="0.9"/>
<circle cx="273.50" cy="214.50" r="1.35" fill="#000"/>
<circle cx="270.50" cy="227.50" r="1.35" fill="#000"/>
<circle cx="273.50" cy="229.50" r="1.35" fill="#000"/>
<circle cx="276.50" cy="229.50" r="1.35" fill="#000"/>
<circle cx="273.50" cy="263.50" r="1.35" fill="#000"/>
<circle cx="273.50" cy="268.50" r="1.35" fill="#000"/>
<circle cx="288.50" cy="204.50" r="1.15" fill="none" stroke="#111" stroke-width="0.9"/>
<circle cx="291.50" cy="206.50" r="1.15" fill="none" stroke="#111" stroke-width="0.9"/>
<circle cx="291.50" cy="210.50" r="1.15" fill="none" stroke="#111" stroke-width="0.9"/>
<circle cx="288.50" cy="214.50" r="1.15" fill="none" stroke="#111" stroke-width="0.9"/>
<circle cx="291.50" cy="215.50" r="1.15" fill="none" stroke="#111" stroke-width="0.9"/>
<circle cx="291.50" cy="222.50" r="1.15" fill="none" stroke="#111" stroke-width="0.9"/>
<circle cx="294.50" cy="220.50" r="1.15" fill="none" stroke="#111" stroke-width="0.9"/>
<line x1="230.60" y1="237.50" x2="243.30" y2="237.50" stroke="#777" stroke-width="1.0"/>
<line x1="249.60" y1="215.50" x2="261.00" y2="215.50" stroke="#333" stroke-width="1.0"/>
<line x1="267.10" y1="238.50" x2="279.80" y2="238.50" stroke="#777" stroke-width="1.0"/>
<line x1="284.90" y1="213.50" x2="297.60" y2="213.50" stroke="#333" stroke-width="1.0"/>
<rect x="227.50" y="202.50" width="71.00" height="73.00" fill="none" stroke="#000" stroke-width="1.2"/>
<text transform="translate(355.30,196.50) scale(1,1.04)" font-size="6.0" font-weight="bold" text-anchor="middle" fill="#111" stroke="#111" stroke-width="0.28">p19<tspan font-size="4.5" dy="-2.1" dx="0.3" stroke-width="0.2" fill="#222" stroke="#222">Skp1</tspan></text>
<line x1="336.70" y1="221.50" x2="373.90" y2="221.50" stroke="#c2c2c2" stroke-width="1.5"/>
<line x1="334.10" y1="203.50" x2="336.70" y2="203.50" stroke="#111" stroke-width="1.0"/>
<text transform="translate(333.20,205.10) scale(1,1.08)" font-size="4.9" font-weight="bold" text-anchor="end" fill="#111" stroke="#111" stroke-width="0.2">0.25</text>
<line x1="334.10" y1="221.50" x2="336.70" y2="221.50" stroke="#111" stroke-width="1.0"/>
<text transform="translate(333.20,223.22) scale(1,1.08)" font-size="4.9" font-weight="bold" text-anchor="end" fill="#111" stroke="#111" stroke-width="0.2">0.00</text>
<line x1="334.10" y1="239.50" x2="336.70" y2="239.50" stroke="#111" stroke-width="1.0"/>
<text transform="translate(333.20,241.34) scale(1,1.08)" font-size="4.9" font-weight="bold" text-anchor="end" fill="#111" stroke="#111" stroke-width="0.2">-0.25</text>
<line x1="334.10" y1="257.50" x2="336.70" y2="257.50" stroke="#111" stroke-width="1.0"/>
<text transform="translate(333.20,259.46) scale(1,1.08)" font-size="4.9" font-weight="bold" text-anchor="end" fill="#111" stroke="#111" stroke-width="0.2">-0.50</text>
<line x1="334.10" y1="275.50" x2="336.70" y2="275.50" stroke="#111" stroke-width="1.0"/>
<text transform="translate(333.20,277.58) scale(1,1.08)" font-size="4.9" font-weight="bold" text-anchor="end" fill="#111" stroke="#111" stroke-width="0.2">-0.75</text>
<line x1="346.50" y1="275.50" x2="346.50" y2="277.70" stroke="#111" stroke-width="1.0"/>
<text transform="translate(346.30,282.50) scale(1,1.08)" font-size="5.6" font-weight="bold" text-anchor="middle" fill="#1a1a1a" stroke="#1a1a1a" stroke-width="0.25">S</text>
<line x1="364.50" y1="275.50" x2="364.50" y2="277.70" stroke="#111" stroke-width="1.0"/>
<text transform="translate(364.60,282.50) scale(1,1.08)" font-size="5.6" font-weight="bold" text-anchor="middle" fill="#1a1a1a" stroke="#1a1a1a" stroke-width="0.25">R</text>
<circle cx="346.50" cy="227.50" r="1.35" fill="#000"/>
<circle cx="346.50" cy="242.50" r="1.35" fill="#000"/>
<circle cx="346.50" cy="254.50" r="1.35" fill="#000"/>
<circle cx="349.50" cy="253.50" r="1.35" fill="#000"/>
<circle cx="346.50" cy="258.50" r="1.35" fill="#000"/>
<circle cx="346.50" cy="271.50" r="1.35" fill="#000"/>
<circle cx="364.50" cy="205.50" r="1.15" fill="none" stroke="#111" stroke-width="0.9"/>
<circle cx="361.50" cy="218.50" r="1.15" fill="none" stroke="#111" stroke-width="0.9"/>
<circle cx="364.50" cy="220.50" r="1.15" fill="none" stroke="#111" stroke-width="0.9"/>
<circle cx="367.50" cy="219.50" r="1.15" fill="none" stroke="#111" stroke-width="0.9"/>
<circle cx="364.50" cy="231.50" r="1.15" fill="none" stroke="#111" stroke-width="0.9"/>
<circle cx="367.50" cy="240.50" r="1.15" fill="none" stroke="#111" stroke-width="0.9"/>
<circle cx="364.50" cy="243.50" r="1.15" fill="none" stroke="#111" stroke-width="0.9"/>
<line x1="340.70" y1="251.50" x2="352.00" y2="251.50" stroke="#333" stroke-width="1.0"/>
<line x1="358.40" y1="226.50" x2="370.80" y2="226.50" stroke="#333" stroke-width="1.0"/>
<rect x="336.50" y="202.50" width="37.00" height="73.00" fill="none" stroke="#000" stroke-width="1.2"/>
<text transform="translate(426.45,193.60) scale(1,1.04)" font-size="6.1" font-weight="bold" text-anchor="middle" fill="#111" stroke="#111" stroke-width="0.28">cdk4</text>
<line x1="408.20" y1="216.50" x2="444.70" y2="216.50" stroke="#c2c2c2" stroke-width="1.5"/>
<line x1="405.60" y1="204.50" x2="408.20" y2="204.50" stroke="#111" stroke-width="1.0"/>
<text transform="translate(404.70,206.70) scale(1,1.08)" font-size="4.9" font-weight="bold" text-anchor="end" fill="#111" stroke="#111" stroke-width="0.2">0.5</text>
<line x1="405.60" y1="216.50" x2="408.20" y2="216.50" stroke="#111" stroke-width="1.0"/>
<text transform="translate(404.70,218.62) scale(1,1.08)" font-size="4.9" font-weight="bold" text-anchor="end" fill="#111" stroke="#111" stroke-width="0.2">0.0</text>
<line x1="405.60" y1="228.50" x2="408.20" y2="228.50" stroke="#111" stroke-width="1.0"/>
<text transform="translate(404.70,230.54) scale(1,1.08)" font-size="4.9" font-weight="bold" text-anchor="end" fill="#111" stroke="#111" stroke-width="0.2">-0.5</text>
<line x1="405.60" y1="240.50" x2="408.20" y2="240.50" stroke="#111" stroke-width="1.0"/>
<text transform="translate(404.70,242.46) scale(1,1.08)" font-size="4.9" font-weight="bold" text-anchor="end" fill="#111" stroke="#111" stroke-width="0.2">-1.0</text>
<line x1="405.60" y1="252.50" x2="408.20" y2="252.50" stroke="#111" stroke-width="1.0"/>
<text transform="translate(404.70,254.38) scale(1,1.08)" font-size="4.9" font-weight="bold" text-anchor="end" fill="#111" stroke="#111" stroke-width="0.2">-1.5</text>
<line x1="405.60" y1="264.50" x2="408.20" y2="264.50" stroke="#111" stroke-width="1.0"/>
<text transform="translate(404.70,266.30) scale(1,1.08)" font-size="4.9" font-weight="bold" text-anchor="end" fill="#111" stroke="#111" stroke-width="0.2">-2.0</text>
<line x1="405.60" y1="276.50" x2="408.20" y2="276.50" stroke="#111" stroke-width="1.0"/>
<text transform="translate(404.70,278.22) scale(1,1.08)" font-size="4.9" font-weight="bold" text-anchor="end" fill="#111" stroke="#111" stroke-width="0.2">-2.5</text>
<line x1="417.50" y1="275.90" x2="417.50" y2="278.10" stroke="#111" stroke-width="1.0"/>
<text transform="translate(417.10,282.90) scale(1,1.08)" font-size="5.6" font-weight="bold" text-anchor="middle" fill="#1a1a1a" stroke="#1a1a1a" stroke-width="0.25">S</text>
<line x1="435.50" y1="275.90" x2="435.50" y2="278.10" stroke="#111" stroke-width="1.0"/>
<text transform="translate(435.60,282.90) scale(1,1.08)" font-size="5.6" font-weight="bold" text-anchor="middle" fill="#1a1a1a" stroke="#1a1a1a" stroke-width="0.25">R</text>
<circle cx="414.50" cy="218.50" r="1.35" fill="#000"/>
<circle cx="417.50" cy="218.50" r="1.35" fill="#000"/>
<circle cx="417.50" cy="228.50" r="1.35" fill="#000"/>
<circle cx="420.50" cy="226.50" r="1.35" fill="#000"/>
<circle cx="417.50" cy="246.50" r="1.35" fill="#000"/>
<circle cx="417.50" cy="272.50" r="1.35" fill="#000"/>
<circle cx="435.50" cy="204.50" r="1.15" fill="none" stroke="#111" stroke-width="0.9"/>
<circle cx="432.50" cy="214.50" r="1.15" fill="none" stroke="#111" stroke-width="0.9"/>
<circle cx="435.50" cy="214.50" r="1.15" fill="none" stroke="#111" stroke-width="0.9"/>
<circle cx="431.50" cy="215.50" r="1.15" fill="none" stroke="#111" stroke-width="0.9"/>
<circle cx="438.50" cy="216.50" r="1.15" fill="none" stroke="#111" stroke-width="0.9"/>
<circle cx="435.50" cy="218.50" r="1.15" fill="none" stroke="#111" stroke-width="0.9"/>
<circle cx="438.50" cy="218.50" r="1.15" fill="none" stroke="#111" stroke-width="0.9"/>
<line x1="411.10" y1="235.50" x2="423.60" y2="235.50" stroke="#333" stroke-width="1.0"/>
<line x1="429.60" y1="214.50" x2="441.50" y2="214.50" stroke="#333" stroke-width="1.0"/>
<rect x="408.50" y="202.50" width="36.00" height="73.00" fill="none" stroke="#000" stroke-width="1.2"/>
<text transform="translate(497.30,195.80) scale(1,1.04)" font-size="6.0" font-weight="bold" text-anchor="middle" fill="#111" stroke="#111" stroke-width="0.28">p27<tspan font-size="4.5" dy="-2.1" dx="0.3" stroke-width="0.2" fill="#222" stroke="#222">Kip1</tspan></text>
<line x1="478.80" y1="265.50" x2="515.80" y2="265.50" stroke="#c2c2c2" stroke-width="1.5"/>
<line x1="476.20" y1="205.50" x2="478.80" y2="205.50" stroke="#111" stroke-width="1.0"/>
<text transform="translate(475.30,207.70) scale(1,1.08)" font-size="4.9" font-weight="bold" text-anchor="end" fill="#111" stroke="#111" stroke-width="0.2">3.0</text>
<line x1="476.20" y1="215.50" x2="478.80" y2="215.50" stroke="#111" stroke-width="1.0"/>
<text transform="translate(475.30,217.71) scale(1,1.08)" font-size="4.9" font-weight="bold" text-anchor="end" fill="#111" stroke="#111" stroke-width="0.2">2.5</text>
<line x1="476.20" y1="225.50" x2="478.80" y2="225.50" stroke="#111" stroke-width="1.0"/>
<text transform="translate(475.30,227.72) scale(1,1.08)" font-size="4.9" font-weight="bold" text-anchor="end" fill="#111" stroke="#111" stroke-width="0.2">2.0</text>
<line x1="476.20" y1="235.50" x2="478.80" y2="235.50" stroke="#111" stroke-width="1.0"/>
<text transform="translate(475.30,237.73) scale(1,1.08)" font-size="4.9" font-weight="bold" text-anchor="end" fill="#111" stroke="#111" stroke-width="0.2">1.5</text>
<line x1="476.20" y1="245.50" x2="478.80" y2="245.50" stroke="#111" stroke-width="1.0"/>
<text transform="translate(475.30,247.74) scale(1,1.08)" font-size="4.9" font-weight="bold" text-anchor="end" fill="#111" stroke="#111" stroke-width="0.2">1.0</text>
<line x1="476.20" y1="255.50" x2="478.80" y2="255.50" stroke="#111" stroke-width="1.0"/>
<text transform="translate(475.30,257.75) scale(1,1.08)" font-size="4.9" font-weight="bold" text-anchor="end" fill="#111" stroke="#111" stroke-width="0.2">0.5</text>
<line x1="476.20" y1="265.50" x2="478.80" y2="265.50" stroke="#111" stroke-width="1.0"/>
<text transform="translate(475.30,267.76) scale(1,1.08)" font-size="4.9" font-weight="bold" text-anchor="end" fill="#111" stroke="#111" stroke-width="0.2">0.0</text>
<line x1="476.20" y1="275.50" x2="478.80" y2="275.50" stroke="#111" stroke-width="1.0"/>
<text transform="translate(475.30,277.77) scale(1,1.08)" font-size="4.9" font-weight="bold" text-anchor="end" fill="#111" stroke="#111" stroke-width="0.2">-0.5</text>
<line x1="488.50" y1="275.50" x2="488.50" y2="277.70" stroke="#111" stroke-width="1.0"/>
<text transform="translate(488.00,282.50) scale(1,1.08)" font-size="5.6" font-weight="bold" text-anchor="middle" fill="#1a1a1a" stroke="#1a1a1a" stroke-width="0.25">S</text>
<line x1="506.50" y1="275.50" x2="506.50" y2="277.70" stroke="#111" stroke-width="1.0"/>
<text transform="translate(506.10,282.50) scale(1,1.08)" font-size="5.6" font-weight="bold" text-anchor="middle" fill="#1a1a1a" stroke="#1a1a1a" stroke-width="0.25">R</text>
<circle cx="488.50" cy="206.50" r="1.35" fill="#000"/>
<circle cx="488.50" cy="220.50" r="1.35" fill="#000"/>
<circle cx="488.50" cy="238.50" r="1.35" fill="#000"/>
<circle cx="491.50" cy="236.50" r="1.35" fill="#000"/>
<circle cx="488.50" cy="245.50" r="1.35" fill="#000"/>
<circle cx="488.50" cy="258.50" r="1.35" fill="#000"/>
<circle cx="503.50" cy="260.50" r="1.15" fill="none" stroke="#111" stroke-width="0.9"/>
<circle cx="506.50" cy="260.50" r="1.15" fill="none" stroke="#111" stroke-width="0.9"/>
<circle cx="509.50" cy="259.50" r="1.15" fill="none" stroke="#111" stroke-width="0.9"/>
<circle cx="503.50" cy="266.50" r="1.15" fill="none" stroke="#111" stroke-width="0.9"/>
<circle cx="506.50" cy="266.50" r="1.15" fill="none" stroke="#111" stroke-width="0.9"/>
<circle cx="509.50" cy="266.50" r="1.15" fill="none" stroke="#111" stroke-width="0.9"/>
<line x1="482.00" y1="233.50" x2="494.60" y2="233.50" stroke="#333" stroke-width="1.0"/>
<line x1="500.00" y1="263.50" x2="511.90" y2="263.50" stroke="#333" stroke-width="1.0"/>
<rect x="478.50" y="202.50" width="37.00" height="73.00" fill="none" stroke="#000" stroke-width="1.2"/>
<text transform="translate(31.65,301.90) scale(1,1.04)" font-size="6.1" font-weight="bold" text-anchor="middle" fill="#111" stroke="#111" stroke-width="0.28">p-eIF4GI (S1108)</text>
<line x1="13.40" y1="322.50" x2="49.90" y2="322.50" stroke="#c2c2c2" stroke-width="1.5"/>
<line x1="10.80" y1="310.50" x2="13.40" y2="310.50" stroke="#111" stroke-width="1.0"/>
<text transform="translate(9.90,312.00) scale(1,1.08)" font-size="4.9" font-weight="bold" text-anchor="end" fill="#111" stroke="#111" stroke-width="0.2">0.5</text>
<line x1="10.80" y1="322.50" x2="13.40" y2="322.50" stroke="#111" stroke-width="1.0"/>
<text transform="translate(9.90,324.25) scale(1,1.08)" font-size="4.9" font-weight="bold" text-anchor="end" fill="#111" stroke="#111" stroke-width="0.2">0.0</text>
<line x1="10.80" y1="334.50" x2="13.40" y2="334.50" stroke="#111" stroke-width="1.0"/>
<text transform="translate(9.90,336.50) scale(1,1.08)" font-size="4.9" font-weight="bold" text-anchor="end" fill="#111" stroke="#111" stroke-width="0.2">-0.5</text>
<line x1="10.80" y1="346.50" x2="13.40" y2="346.50" stroke="#111" stroke-width="1.0"/>
<text transform="translate(9.90,348.75) scale(1,1.08)" font-size="4.9" font-weight="bold" text-anchor="end" fill="#111" stroke="#111" stroke-width="0.2">-1.0</text>
<line x1="10.80" y1="359.50" x2="13.40" y2="359.50" stroke="#111" stroke-width="1.0"/>
<text transform="translate(9.90,361.00) scale(1,1.08)" font-size="4.9" font-weight="bold" text-anchor="end" fill="#111" stroke="#111" stroke-width="0.2">-1.5</text>
<line x1="10.80" y1="371.50" x2="13.40" y2="371.50" stroke="#111" stroke-width="1.0"/>
<text transform="translate(9.90,373.25) scale(1,1.08)" font-size="4.9" font-weight="bold" text-anchor="end" fill="#111" stroke="#111" stroke-width="0.2">-2.0</text>
<line x1="10.80" y1="383.50" x2="13.40" y2="383.50" stroke="#111" stroke-width="1.0"/>
<text transform="translate(9.90,385.50) scale(1,1.08)" font-size="4.9" font-weight="bold" text-anchor="end" fill="#111" stroke="#111" stroke-width="0.2">-2.5</text>
<line x1="22.50" y1="383.60" x2="22.50" y2="385.80" stroke="#111" stroke-width="1.0"/>
<text transform="translate(22.50,390.60) scale(1,1.08)" font-size="5.6" font-weight="bold" text-anchor="middle" fill="#1a1a1a" stroke="#1a1a1a" stroke-width="0.25">S</text>
<line x1="40.50" y1="383.60" x2="40.50" y2="385.80" stroke="#111" stroke-width="1.0"/>
<text transform="translate(40.60,390.60) scale(1,1.08)" font-size="5.6" font-weight="bold" text-anchor="middle" fill="#1a1a1a" stroke="#1a1a1a" stroke-width="0.25">R</text>
<circle cx="22.50" cy="328.50" r="1.35" fill="#000"/>
<circle cx="22.50" cy="354.50" r="1.35" fill="#000"/>
<circle cx="22.50" cy="361.50" r="1.35" fill="#000"/>
<circle cx="22.50" cy="373.50" r="1.35" fill="#000"/>
<circle cx="25.50" cy="373.50" r="1.35" fill="#000"/>
<circle cx="41.50" cy="320.50" r="1.15" fill="none" stroke="#111" stroke-width="0.9"/>
<circle cx="37.50" cy="324.50" r="1.15" fill="none" stroke="#111" stroke-width="0.9"/>
<circle cx="41.50" cy="326.50" r="1.35" fill="#000"/>
<circle cx="44.50" cy="324.50" r="1.15" fill="none" stroke="#111" stroke-width="0.9"/>
<circle cx="41.50" cy="333.50" r="1.15" fill="none" stroke="#111" stroke-width="0.9"/>
<circle cx="44.50" cy="331.50" r="1.15" fill="none" stroke="#111" stroke-width="0.9"/>
<line x1="16.90" y1="358.50" x2="28.80" y2="358.50" stroke="#333" stroke-width="1.0"/>
<line x1="34.80" y1="326.50" x2="47.70" y2="326.50" stroke="#333" stroke-width="1.0"/>
<rect x="13.50" y="310.50" width="36.00" height="73.00" fill="none" stroke="#000" stroke-width="1.2"/>
<text transform="translate(119.80,301.80) scale(1,1.04)" font-size="6.1" font-weight="bold" text-anchor="middle" fill="#111" stroke="#111" stroke-width="0.28">p-S6 RP (S235/236)</text>
<line x1="83.40" y1="333.50" x2="156.20" y2="333.50" stroke="#c2c2c2" stroke-width="1.5"/>
<line x1="80.80" y1="312.50" x2="83.40" y2="312.50" stroke="#111" stroke-width="1.0"/>
<text transform="translate(79.90,313.80) scale(1,1.08)" font-size="4.9" font-weight="bold" text-anchor="end" fill="#111" stroke="#111" stroke-width="0.2">1.5</text>
<line x1="80.80" y1="319.50" x2="83.40" y2="319.50" stroke="#111" stroke-width="1.0"/>
<text transform="translate(79.90,320.84) scale(1,1.08)" font-size="4.9" font-weight="bold" text-anchor="end" fill="#111" stroke="#111" stroke-width="0.2">1.0</text>
<line x1="80.80" y1="326.50" x2="83.40" y2="326.50" stroke="#111" stroke-width="1.0"/>
<text transform="translate(79.90,327.88) scale(1,1.08)" font-size="4.9" font-weight="bold" text-anchor="end" fill="#111" stroke="#111" stroke-width="0.2">0.5</text>
<line x1="80.80" y1="333.50" x2="83.40" y2="333.50" stroke="#111" stroke-width="1.0"/>
<text transform="translate(79.90,334.92) scale(1,1.08)" font-size="4.9" font-weight="bold" text-anchor="end" fill="#111" stroke="#111" stroke-width="0.2">0.0</text>
<line x1="80.80" y1="340.50" x2="83.40" y2="340.50" stroke="#111" stroke-width="1.0"/>
<text transform="translate(79.90,341.96) scale(1,1.08)" font-size="4.9" font-weight="bold" text-anchor="end" fill="#111" stroke="#111" stroke-width="0.2">-0.5</text>
<line x1="80.80" y1="347.50" x2="83.40" y2="347.50" stroke="#111" stroke-width="1.0"/>
<text transform="translate(79.90,349.00) scale(1,1.08)" font-size="4.9" font-weight="bold" text-anchor="end" fill="#111" stroke="#111" stroke-width="0.2">-1.0</text>
<line x1="80.80" y1="354.50" x2="83.40" y2="354.50" stroke="#111" stroke-width="1.0"/>
<text transform="translate(79.90,356.04) scale(1,1.08)" font-size="4.9" font-weight="bold" text-anchor="end" fill="#111" stroke="#111" stroke-width="0.2">-1.5</text>
<line x1="80.80" y1="361.50" x2="83.40" y2="361.50" stroke="#111" stroke-width="1.0"/>
<text transform="translate(79.90,363.08) scale(1,1.08)" font-size="4.9" font-weight="bold" text-anchor="end" fill="#111" stroke="#111" stroke-width="0.2">-2.0</text>
<line x1="80.80" y1="368.50" x2="83.40" y2="368.50" stroke="#111" stroke-width="1.0"/>
<text transform="translate(79.90,370.12) scale(1,1.08)" font-size="4.9" font-weight="bold" text-anchor="end" fill="#111" stroke="#111" stroke-width="0.2">-2.5</text>
<line x1="80.80" y1="375.50" x2="83.40" y2="375.50" stroke="#111" stroke-width="1.0"/>
<text transform="translate(79.90,377.16) scale(1,1.08)" font-size="4.9" font-weight="bold" text-anchor="end" fill="#111" stroke="#111" stroke-width="0.2">-3.0</text>
<line x1="80.80" y1="382.50" x2="83.40" y2="382.50" stroke="#111" stroke-width="1.0"/>
<text transform="translate(79.90,384.20) scale(1,1.08)" font-size="4.9" font-weight="bold" text-anchor="end" fill="#111" stroke="#111" stroke-width="0.2">-3.5</text>
<line x1="92.50" y1="383.60" x2="92.50" y2="385.80" stroke="#111" stroke-width="1.0"/>
<text transform="translate(92.20,390.60) scale(1,1.08)" font-size="5.6" font-weight="bold" text-anchor="middle" fill="#1a1a1a" stroke="#1a1a1a" stroke-width="0.25">S</text>
<line x1="111.50" y1="383.60" x2="111.50" y2="385.80" stroke="#111" stroke-width="1.0"/>
<text transform="translate(111.20,390.60) scale(1,1.08)" font-size="5.6" font-weight="bold" text-anchor="middle" fill="#1a1a1a" stroke="#1a1a1a" stroke-width="0.25">R</text>
<line x1="129.50" y1="383.60" x2="129.50" y2="385.80" stroke="#111" stroke-width="1.0"/>
<text transform="translate(129.60,390.60) scale(1,1.08)" font-size="5.6" font-weight="bold" text-anchor="middle" fill="#1a1a1a" stroke="#1a1a1a" stroke-width="0.25">S</text>
<line x1="148.50" y1="383.60" x2="148.50" y2="385.80" stroke="#111" stroke-width="1.0"/>
<text transform="translate(148.10,390.60) scale(1,1.08)" font-size="5.6" font-weight="bold" text-anchor="middle" fill="#1a1a1a" stroke="#1a1a1a" stroke-width="0.25">R</text>
<circle cx="92.50" cy="338.50" r="1.35" fill="#000"/>
<circle cx="92.50" cy="342.50" r="1.35" fill="#000"/>
<circle cx="95.50" cy="345.50" r="1.35" fill="#000"/>
<circle cx="92.50" cy="346.50" r="1.35" fill="#000"/>
<circle cx="92.50" cy="363.50" r="1.35" fill="#000"/>
<circle cx="92.50" cy="381.50" r="1.35" fill="#000"/>
<circle cx="111.50" cy="312.50" r="1.15" fill="none" stroke="#111" stroke-width="0.9"/>
<circle cx="114.50" cy="312.50" r="1.15" fill="none" stroke="#111" stroke-width="0.9"/>
<circle cx="107.50" cy="332.50" r="1.15" fill="none" stroke="#111" stroke-width="0.9"/>
<circle cx="111.50" cy="333.50" r="1.15" fill="none" stroke="#111" stroke-width="0.9"/>
<circle cx="114.50" cy="328.50" r="1.15" fill="none" stroke="#111" stroke-width="0.9"/>
<circle cx="111.50" cy="336.50" r="1.15" fill="none" stroke="#111" stroke-width="0.9"/>
<circle cx="114.50" cy="336.50" r="1.15" fill="none" stroke="#111" stroke-width="0.9"/>
<circle cx="129.50" cy="336.50" r="1.35" fill="#000"/>
<circle cx="129.50" cy="342.50" r="1.35" fill="#000"/>
<circle cx="129.50" cy="347.50" r="1.35" fill="#000"/>
<circle cx="133.50" cy="347.50" r="1.35" fill="#000"/>
<circle cx="129.50" cy="361.50" r="1.35" fill="#000"/>
<circle cx="129.50" cy="374.50" r="1.35" fill="#000"/>
<circle cx="148.50" cy="313.50" r="1.15" fill="none" stroke="#111" stroke-width="0.9"/>
<circle cx="151.50" cy="313.50" r="1.15" fill="none" stroke="#111" stroke-width="0.9"/>
<circle cx="144.50" cy="328.50" r="1.15" fill="none" stroke="#111" stroke-width="0.9"/>
<circle cx="148.50" cy="330.50" r="1.15" fill="none" stroke="#111" stroke-width="0.9"/>
<circle cx="144.50" cy="334.50" r="1.15" fill="none" stroke="#111" stroke-width="0.9"/>
<circle cx="148.50" cy="335.50" r="1.15" fill="none" stroke="#111" stroke-width="0.9"/>
<circle cx="151.50" cy="334.50" r="1.15" fill="none" stroke="#111" stroke-width="0.9"/>
<line x1="86.90" y1="353.50" x2="98.90" y2="353.50" stroke="#333" stroke-width="1.0"/>
<line x1="104.70" y1="327.50" x2="118.10" y2="327.50" stroke="#333" stroke-width="1.0"/>
<line x1="123.40" y1="351.50" x2="135.90" y2="351.50" stroke="#333" stroke-width="1.0"/>
<line x1="141.80" y1="327.50" x2="154.30" y2="327.50" stroke="#333" stroke-width="1.0"/>
<rect x="83.50" y="310.50" width="73.00" height="73.00" fill="none" stroke="#000" stroke-width="1.2"/>
<text transform="translate(210.75,302.40) scale(1,1.04)" font-size="6.1" font-weight="bold" text-anchor="middle" fill="#111" stroke="#111" stroke-width="0.28">S6 RP</text>
<line x1="192.20" y1="317.50" x2="229.30" y2="317.50" stroke="#c2c2c2" stroke-width="1.5"/>
<line x1="189.60" y1="310.50" x2="192.20" y2="310.50" stroke="#111" stroke-width="1.0"/>
<text transform="translate(188.70,312.60) scale(1,1.08)" font-size="4.9" font-weight="bold" text-anchor="end" fill="#111" stroke="#111" stroke-width="0.2">0.05</text>
<line x1="189.60" y1="317.50" x2="192.20" y2="317.50" stroke="#111" stroke-width="1.0"/>
<text transform="translate(188.70,319.24) scale(1,1.08)" font-size="4.9" font-weight="bold" text-anchor="end" fill="#111" stroke="#111" stroke-width="0.2">-0.00</text>
<line x1="189.60" y1="324.50" x2="192.20" y2="324.50" stroke="#111" stroke-width="1.0"/>
<text transform="translate(188.70,325.88) scale(1,1.08)" font-size="4.9" font-weight="bold" text-anchor="end" fill="#111" stroke="#111" stroke-width="0.2">-0.05</text>
<line x1="189.60" y1="330.50" x2="192.20" y2="330.50" stroke="#111" stroke-width="1.0"/>
<text transform="translate(188.70,332.52) scale(1,1.08)" font-size="4.9" font-weight="bold" text-anchor="end" fill="#111" stroke="#111" stroke-width="0.2">-0.10</text>
<line x1="189.60" y1="337.50" x2="192.20" y2="337.50" stroke="#111" stroke-width="1.0"/>
<text transform="translate(188.70,339.16) scale(1,1.08)" font-size="4.9" font-weight="bold" text-anchor="end" fill="#111" stroke="#111" stroke-width="0.2">-0.15</text>
<line x1="189.60" y1="344.50" x2="192.20" y2="344.50" stroke="#111" stroke-width="1.0"/>
<text transform="translate(188.70,345.80) scale(1,1.08)" font-size="4.9" font-weight="bold" text-anchor="end" fill="#111" stroke="#111" stroke-width="0.2">-0.20</text>
<line x1="189.60" y1="350.50" x2="192.20" y2="350.50" stroke="#111" stroke-width="1.0"/>
<text transform="translate(188.70,352.44) scale(1,1.08)" font-size="4.9" font-weight="bold" text-anchor="end" fill="#111" stroke="#111" stroke-width="0.2">-0.25</text>
<line x1="189.60" y1="357.50" x2="192.20" y2="357.50" stroke="#111" stroke-width="1.0"/>
<text transform="translate(188.70,359.08) scale(1,1.08)" font-size="4.9" font-weight="bold" text-anchor="end" fill="#111" stroke="#111" stroke-width="0.2">-0.30</text>
<line x1="189.60" y1="363.50" x2="192.20" y2="363.50" stroke="#111" stroke-width="1.0"/>
<text transform="translate(188.70,365.72) scale(1,1.08)" font-size="4.9" font-weight="bold" text-anchor="end" fill="#111" stroke="#111" stroke-width="0.2">-0.35</text>
<line x1="189.60" y1="370.50" x2="192.20" y2="370.50" stroke="#111" stroke-width="1.0"/>
<text transform="translate(188.70,372.36) scale(1,1.08)" font-size="4.9" font-weight="bold" text-anchor="end" fill="#111" stroke="#111" stroke-width="0.2">-0.40</text>
<line x1="189.60" y1="377.50" x2="192.20" y2="377.50" stroke="#111" stroke-width="1.0"/>
<text transform="translate(188.70,379.00) scale(1,1.08)" font-size="4.9" font-weight="bold" text-anchor="end" fill="#111" stroke="#111" stroke-width="0.2">-0.45</text>
<line x1="201.50" y1="383.80" x2="201.50" y2="386.00" stroke="#111" stroke-width="1.0"/>
<text transform="translate(201.80,390.80) scale(1,1.08)" font-size="5.6" font-weight="bold" text-anchor="middle" fill="#1a1a1a" stroke="#1a1a1a" stroke-width="0.25">S</text>
<line x1="219.50" y1="383.80" x2="219.50" y2="386.00" stroke="#111" stroke-width="1.0"/>
<text transform="translate(219.50,390.80) scale(1,1.08)" font-size="5.6" font-weight="bold" text-anchor="middle" fill="#1a1a1a" stroke="#1a1a1a" stroke-width="0.25">R</text>
<circle cx="201.50" cy="328.50" r="1.35" fill="#000"/>
<circle cx="201.50" cy="337.50" r="1.35" fill="#000"/>
<circle cx="205.50" cy="335.50" r="1.35" fill="#000"/>
<circle cx="201.50" cy="372.50" r="1.35" fill="#000"/>
<circle cx="201.50" cy="378.50" r="1.35" fill="#000"/>
<circle cx="205.50" cy="378.50" r="1.35" fill="#000"/>
<circle cx="220.50" cy="315.50" r="1.15" fill="none" stroke="#111" stroke-width="0.9"/>
<circle cx="217.50" cy="318.50" r="1.15" fill="none" stroke="#111" stroke-width="0.9"/>
<circle cx="223.50" cy="318.50" r="1.15" fill="none" stroke="#111" stroke-width="0.9"/>
<circle cx="219.50" cy="320.50" r="1.15" fill="none" stroke="#111" stroke-width="0.9"/>
<circle cx="217.50" cy="346.50" r="1.15" fill="none" stroke="#111" stroke-width="0.9"/>
<circle cx="220.50" cy="346.50" r="1.15" fill="none" stroke="#111" stroke-width="0.9"/>
<line x1="195.40" y1="355.50" x2="207.90" y2="355.50" stroke="#777" stroke-width="1.0"/>
<line x1="213.80" y1="326.50" x2="226.50" y2="326.50" stroke="#777" stroke-width="1.0"/>
<rect x="192.50" y="311.50" width="37.00" height="72.00" fill="none" stroke="#000" stroke-width="1.2"/>
<text transform="translate(281.55,301.40) scale(1,1.04)" font-size="6.1" font-weight="bold" text-anchor="middle" fill="#111" stroke="#111" stroke-width="0.28">p-p70S6K (T389)</text>
<line x1="263.20" y1="316.50" x2="299.90" y2="316.50" stroke="#c2c2c2" stroke-width="1.5"/>
<line x1="260.60" y1="310.50" x2="263.20" y2="310.50" stroke="#111" stroke-width="1.0"/>
<text transform="translate(259.70,312.40) scale(1,1.08)" font-size="4.9" font-weight="bold" text-anchor="end" fill="#111" stroke="#111" stroke-width="0.2">0.1</text>
<line x1="260.60" y1="317.50" x2="263.20" y2="317.50" stroke="#111" stroke-width="1.0"/>
<text transform="translate(259.70,319.06) scale(1,1.08)" font-size="4.9" font-weight="bold" text-anchor="end" fill="#111" stroke="#111" stroke-width="0.2">-0.0</text>
<line x1="260.60" y1="323.50" x2="263.20" y2="323.50" stroke="#111" stroke-width="1.0"/>
<text transform="translate(259.70,325.72) scale(1,1.08)" font-size="4.9" font-weight="bold" text-anchor="end" fill="#111" stroke="#111" stroke-width="0.2">-0.1</text>
<line x1="260.60" y1="330.50" x2="263.20" y2="330.50" stroke="#111" stroke-width="1.0"/>
<text transform="translate(259.70,332.38) scale(1,1.08)" font-size="4.9" font-weight="bold" text-anchor="end" fill="#111" stroke="#111" stroke-width="0.2">-0.2</text>
<line x1="260.60" y1="337.50" x2="263.20" y2="337.50" stroke="#111" stroke-width="1.0"/>
<text transform="translate(259.70,339.04) scale(1,1.08)" font-size="4.9" font-weight="bold" text-anchor="end" fill="#111" stroke="#111" stroke-width="0.2">-0.3</text>
<line x1="260.60" y1="343.50" x2="263.20" y2="343.50" stroke="#111" stroke-width="1.0"/>
<text transform="translate(259.70,345.70) scale(1,1.08)" font-size="4.9" font-weight="bold" text-anchor="end" fill="#111" stroke="#111" stroke-width="0.2">-0.4</text>
<line x1="260.60" y1="350.50" x2="263.20" y2="350.50" stroke="#111" stroke-width="1.0"/>
<text transform="translate(259.70,352.36) scale(1,1.08)" font-size="4.9" font-weight="bold" text-anchor="end" fill="#111" stroke="#111" stroke-width="0.2">-0.5</text>
<line x1="260.60" y1="357.50" x2="263.20" y2="357.50" stroke="#111" stroke-width="1.0"/>
<text transform="translate(259.70,359.02) scale(1,1.08)" font-size="4.9" font-weight="bold" text-anchor="end" fill="#111" stroke="#111" stroke-width="0.2">-0.6</text>
<line x1="260.60" y1="363.50" x2="263.20" y2="363.50" stroke="#111" stroke-width="1.0"/>
<text transform="translate(259.70,365.68) scale(1,1.08)" font-size="4.9" font-weight="bold" text-anchor="end" fill="#111" stroke="#111" stroke-width="0.2">-0.7</text>
<line x1="260.60" y1="370.50" x2="263.20" y2="370.50" stroke="#111" stroke-width="1.0"/>
<text transform="translate(259.70,372.34) scale(1,1.08)" font-size="4.9" font-weight="bold" text-anchor="end" fill="#111" stroke="#111" stroke-width="0.2">-0.8</text>
<line x1="260.60" y1="377.50" x2="263.20" y2="377.50" stroke="#111" stroke-width="1.0"/>
<text transform="translate(259.70,379.00) scale(1,1.08)" font-size="4.9" font-weight="bold" text-anchor="end" fill="#111" stroke="#111" stroke-width="0.2">-0.9</text>
<line x1="272.50" y1="383.60" x2="272.50" y2="385.80" stroke="#111" stroke-width="1.0"/>
<text transform="translate(272.20,390.60) scale(1,1.08)" font-size="5.6" font-weight="bold" text-anchor="middle" fill="#1a1a1a" stroke="#1a1a1a" stroke-width="0.25">S</text>
<line x1="290.50" y1="383.60" x2="290.50" y2="385.80" stroke="#111" stroke-width="1.0"/>
<text transform="translate(290.50,390.60) scale(1,1.08)" font-size="5.6" font-weight="bold" text-anchor="middle" fill="#1a1a1a" stroke="#1a1a1a" stroke-width="0.25">R</text>
<circle cx="272.50" cy="319.50" r="1.35" fill="#000"/>
<circle cx="272.50" cy="339.50" r="1.35" fill="#000"/>
<circle cx="272.50" cy="349.50" r="1.35" fill="#000"/>
<circle cx="272.50" cy="361.50" r="1.35" fill="#000"/>
<circle cx="272.50" cy="368.50" r="1.35" fill="#000"/>
<circle cx="272.50" cy="378.50" r="1.35" fill="#000"/>
<circle cx="287.50" cy="314.50" r="1.15" fill="none" stroke="#111" stroke-width="0.9"/>
<circle cx="290.50" cy="315.50" r="1.15" fill="none" stroke="#111" stroke-width="0.9"/>
<circle cx="287.50" cy="321.50" r="1.15" fill="none" stroke="#111" stroke-width="0.9"/>
<circle cx="290.50" cy="321.50" r="1.15" fill="none" stroke="#111" stroke-width="0.9"/>
<circle cx="287.50" cy="325.50" r="1.15" fill="none" stroke="#111" stroke-width="0.9"/>
<circle cx="290.50" cy="332.50" r="1.15" fill="none" stroke="#111" stroke-width="0.9"/>
<circle cx="293.50" cy="330.50" r="1.15" fill="none" stroke="#111" stroke-width="0.9"/>
<line x1="266.10" y1="352.50" x2="278.50" y2="352.50" stroke="#777" stroke-width="1.0"/>
<line x1="284.00" y1="323.50" x2="297.10" y2="323.50" stroke="#333" stroke-width="1.0"/>
<rect x="263.50" y="310.50" width="36.00" height="73.00" fill="none" stroke="#000" stroke-width="1.2"/>
<text transform="translate(354.05,301.40) scale(1,1.04)" font-size="6.1" font-weight="bold" text-anchor="middle" fill="#111" stroke="#111" stroke-width="0.28">p-p70S6K (T421/S424)</text>
<line x1="335.50" y1="336.50" x2="372.60" y2="336.50" stroke="#c2c2c2" stroke-width="1.5"/>
<line x1="332.90" y1="321.50" x2="335.50" y2="321.50" stroke="#111" stroke-width="1.0"/>
<text transform="translate(332.00,322.80) scale(1,1.08)" font-size="4.9" font-weight="bold" text-anchor="end" fill="#111" stroke="#111" stroke-width="0.2">0.1</text>
<line x1="332.90" y1="336.50" x2="335.50" y2="336.50" stroke="#111" stroke-width="1.0"/>
<text transform="translate(332.00,338.48) scale(1,1.08)" font-size="4.9" font-weight="bold" text-anchor="end" fill="#111" stroke="#111" stroke-width="0.2">-0.0</text>
<line x1="332.90" y1="352.50" x2="335.50" y2="352.50" stroke="#111" stroke-width="1.0"/>
<text transform="translate(332.00,354.16) scale(1,1.08)" font-size="4.9" font-weight="bold" text-anchor="end" fill="#111" stroke="#111" stroke-width="0.2">-0.1</text>
<line x1="332.90" y1="368.50" x2="335.50" y2="368.50" stroke="#111" stroke-width="1.0"/>
<text transform="translate(332.00,369.84) scale(1,1.08)" font-size="4.9" font-weight="bold" text-anchor="end" fill="#111" stroke="#111" stroke-width="0.2">-0.2</text>
<line x1="332.90" y1="383.50" x2="335.50" y2="383.50" stroke="#111" stroke-width="1.0"/>
<text transform="translate(332.00,385.52) scale(1,1.08)" font-size="4.9" font-weight="bold" text-anchor="end" fill="#111" stroke="#111" stroke-width="0.2">-0.3</text>
<line x1="344.50" y1="383.60" x2="344.50" y2="385.80" stroke="#111" stroke-width="1.0"/>
<text transform="translate(344.80,390.60) scale(1,1.08)" font-size="5.6" font-weight="bold" text-anchor="middle" fill="#1a1a1a" stroke="#1a1a1a" stroke-width="0.25">S</text>
<line x1="363.50" y1="383.60" x2="363.50" y2="385.80" stroke="#111" stroke-width="1.0"/>
<text transform="translate(363.30,390.60) scale(1,1.08)" font-size="5.6" font-weight="bold" text-anchor="middle" fill="#1a1a1a" stroke="#1a1a1a" stroke-width="0.25">R</text>
<circle cx="341.50" cy="353.50" r="1.35" fill="#000"/>
<circle cx="345.50" cy="354.50" r="1.35" fill="#000"/>
<circle cx="341.50" cy="372.50" r="1.35" fill="#000"/>
<circle cx="345.50" cy="373.50" r="1.35" fill="#000"/>
<circle cx="345.50" cy="381.50" r="1.35" fill="#000"/>
<circle cx="344.50" cy="366.50" r="1.35" fill="#000"/>
<circle cx="363.50" cy="313.50" r="1.15" fill="none" stroke="#111" stroke-width="0.9"/>
<circle cx="363.50" cy="318.50" r="1.15" fill="none" stroke="#111" stroke-width="0.9"/>
<circle cx="363.50" cy="329.50" r="1.15" fill="none" stroke="#111" stroke-width="0.9"/>
<circle cx="363.50" cy="333.50" r="1.15" fill="none" stroke="#111" stroke-width="0.9"/>
<circle cx="360.50" cy="340.50" r="1.15" fill="none" stroke="#111" stroke-width="0.9"/>
<circle cx="363.50" cy="342.50" r="1.15" fill="none" stroke="#111" stroke-width="0.9"/>
<circle cx="363.50" cy="376.50" r="1.15" fill="none" stroke="#111" stroke-width="0.9"/>
<line x1="338.90" y1="366.50" x2="351.30" y2="366.50" stroke="#333" stroke-width="1.0"/>
<line x1="357.20" y1="336.50" x2="369.90" y2="336.50" stroke="#333" stroke-width="1.0"/>
<rect x="335.50" y="310.50" width="37.00" height="73.00" fill="none" stroke="#000" stroke-width="1.2"/>
<text transform="translate(427.10,301.40) scale(1,1.04)" font-size="6.1" font-weight="bold" text-anchor="middle" fill="#111" stroke="#111" stroke-width="0.28">p70S6K</text>
<line x1="408.60" y1="317.50" x2="445.60" y2="317.50" stroke="#c2c2c2" stroke-width="1.5"/>
<line x1="406.00" y1="310.50" x2="408.60" y2="310.50" stroke="#111" stroke-width="1.0"/>
<text transform="translate(405.10,311.90) scale(1,1.08)" font-size="4.9" font-weight="bold" text-anchor="end" fill="#111" stroke="#111" stroke-width="0.2">0.1</text>
<line x1="406.00" y1="317.50" x2="408.60" y2="317.50" stroke="#111" stroke-width="1.0"/>
<text transform="translate(405.10,319.23) scale(1,1.08)" font-size="4.9" font-weight="bold" text-anchor="end" fill="#111" stroke="#111" stroke-width="0.2">-0.0</text>
<line x1="406.00" y1="324.50" x2="408.60" y2="324.50" stroke="#111" stroke-width="1.0"/>
<text transform="translate(405.10,326.56) scale(1,1.08)" font-size="4.9" font-weight="bold" text-anchor="end" fill="#111" stroke="#111" stroke-width="0.2">-0.1</text>
<line x1="406.00" y1="332.50" x2="408.60" y2="332.50" stroke="#111" stroke-width="1.0"/>
<text transform="translate(405.10,333.89) scale(1,1.08)" font-size="4.9" font-weight="bold" text-anchor="end" fill="#111" stroke="#111" stroke-width="0.2">-0.2</text>
<line x1="406.00" y1="339.50" x2="408.60" y2="339.50" stroke="#111" stroke-width="1.0"/>
<text transform="translate(405.10,341.22) scale(1,1.08)" font-size="4.9" font-weight="bold" text-anchor="end" fill="#111" stroke="#111" stroke-width="0.2">-0.3</text>
<line x1="406.00" y1="346.50" x2="408.60" y2="346.50" stroke="#111" stroke-width="1.0"/>
<text transform="translate(405.10,348.55) scale(1,1.08)" font-size="4.9" font-weight="bold" text-anchor="end" fill="#111" stroke="#111" stroke-width="0.2">-0.4</text>
<line x1="406.00" y1="354.50" x2="408.60" y2="354.50" stroke="#111" stroke-width="1.0"/>
<text transform="translate(405.10,355.88) scale(1,1.08)" font-size="4.9" font-weight="bold" text-anchor="end" fill="#111" stroke="#111" stroke-width="0.2">-0.5</text>
<line x1="406.00" y1="361.50" x2="408.60" y2="361.50" stroke="#111" stroke-width="1.0"/>
<text transform="translate(405.10,363.21) scale(1,1.08)" font-size="4.9" font-weight="bold" text-anchor="end" fill="#111" stroke="#111" stroke-width="0.2">-0.6</text>
<line x1="406.00" y1="368.50" x2="408.60" y2="368.50" stroke="#111" stroke-width="1.0"/>
<text transform="translate(405.10,370.54) scale(1,1.08)" font-size="4.9" font-weight="bold" text-anchor="end" fill="#111" stroke="#111" stroke-width="0.2">-0.7</text>
<line x1="406.00" y1="376.50" x2="408.60" y2="376.50" stroke="#111" stroke-width="1.0"/>
<text transform="translate(405.10,377.87) scale(1,1.08)" font-size="4.9" font-weight="bold" text-anchor="end" fill="#111" stroke="#111" stroke-width="0.2">-0.8</text>
<line x1="417.50" y1="383.60" x2="417.50" y2="385.80" stroke="#111" stroke-width="1.0"/>
<text transform="translate(417.60,390.60) scale(1,1.08)" font-size="5.6" font-weight="bold" text-anchor="middle" fill="#1a1a1a" stroke="#1a1a1a" stroke-width="0.25">S</text>
<line x1="436.50" y1="383.60" x2="436.50" y2="385.80" stroke="#111" stroke-width="1.0"/>
<text transform="translate(436.00,390.60) scale(1,1.08)" font-size="5.6" font-weight="bold" text-anchor="middle" fill="#1a1a1a" stroke="#1a1a1a" stroke-width="0.25">R</text>
<circle cx="417.50" cy="317.50" r="1.35" fill="#000"/>
<circle cx="417.50" cy="326.50" r="1.35" fill="#000"/>
<circle cx="417.50" cy="344.50" r="1.35" fill="#000"/>
<circle cx="414.50" cy="353.50" r="1.35" fill="#000"/>
<circle cx="417.50" cy="354.50" r="1.35" fill="#000"/>
<circle cx="417.50" cy="377.50" r="1.35" fill="#000"/>
<circle cx="436.50" cy="314.50" r="1.15" fill="none" stroke="#111" stroke-width="0.9"/>
<circle cx="439.50" cy="317.50" r="1.15" fill="none" stroke="#111" stroke-width="0.9"/>
<circle cx="436.50" cy="319.50" r="1.15" fill="none" stroke="#111" stroke-width="0.9"/>
<circle cx="436.50" cy="324.50" r="1.15" fill="none" stroke="#111" stroke-width="0.9"/>
<circle cx="432.50" cy="333.50" r="1.15" fill="none" stroke="#111" stroke-width="0.9"/>
<circle cx="436.50" cy="333.50" r="1.15" fill="none" stroke="#111" stroke-width="0.9"/>
<circle cx="439.50" cy="333.50" r="1.15" fill="none" stroke="#111" stroke-width="0.9"/>
<line x1="411.50" y1="345.50" x2="424.00" y2="345.50" stroke="#333" stroke-width="1.0"/>
<line x1="429.40" y1="325.50" x2="442.10" y2="325.50" stroke="#333" stroke-width="1.0"/>
<rect x="408.50" y="310.50" width="37.00" height="73.00" fill="none" stroke="#000" stroke-width="1.2"/>
<text transform="translate(497.20,301.40) scale(1,1.04)" font-size="6.1" font-weight="bold" text-anchor="middle" fill="#111" stroke="#111" stroke-width="0.28">p-4E-BP1 (S65)</text>
<line x1="478.80" y1="328.50" x2="515.60" y2="328.50" stroke="#c2c2c2" stroke-width="1.5"/>
<line x1="476.20" y1="313.50" x2="478.80" y2="313.50" stroke="#111" stroke-width="1.0"/>
<text transform="translate(475.30,314.80) scale(1,1.08)" font-size="4.9" font-weight="bold" text-anchor="end" fill="#111" stroke="#111" stroke-width="0.2">0.2</text>
<line x1="476.20" y1="320.50" x2="478.80" y2="320.50" stroke="#111" stroke-width="1.0"/>
<text transform="translate(475.30,322.69) scale(1,1.08)" font-size="4.9" font-weight="bold" text-anchor="end" fill="#111" stroke="#111" stroke-width="0.2">0.1</text>
<line x1="476.20" y1="328.50" x2="478.80" y2="328.50" stroke="#111" stroke-width="1.0"/>
<text transform="translate(475.30,330.58) scale(1,1.08)" font-size="4.9" font-weight="bold" text-anchor="end" fill="#111" stroke="#111" stroke-width="0.2">-0.0</text>
<line x1="476.20" y1="336.50" x2="478.80" y2="336.50" stroke="#111" stroke-width="1.0"/>
<text transform="translate(475.30,338.47) scale(1,1.08)" font-size="4.9" font-weight="bold" text-anchor="end" fill="#111" stroke="#111" stroke-width="0.2">-0.1</text>
<line x1="476.20" y1="344.50" x2="478.80" y2="344.50" stroke="#111" stroke-width="1.0"/>
<text transform="translate(475.30,346.36) scale(1,1.08)" font-size="4.9" font-weight="bold" text-anchor="end" fill="#111" stroke="#111" stroke-width="0.2">-0.2</text>
<line x1="476.20" y1="352.50" x2="478.80" y2="352.50" stroke="#111" stroke-width="1.0"/>
<text transform="translate(475.30,354.25) scale(1,1.08)" font-size="4.9" font-weight="bold" text-anchor="end" fill="#111" stroke="#111" stroke-width="0.2">-0.3</text>
<line x1="476.20" y1="360.50" x2="478.80" y2="360.50" stroke="#111" stroke-width="1.0"/>
<text transform="translate(475.30,362.14) scale(1,1.08)" font-size="4.9" font-weight="bold" text-anchor="end" fill="#111" stroke="#111" stroke-width="0.2">-0.4</text>
<line x1="476.20" y1="368.50" x2="478.80" y2="368.50" stroke="#111" stroke-width="1.0"/>
<text transform="translate(475.30,370.03) scale(1,1.08)" font-size="4.9" font-weight="bold" text-anchor="end" fill="#111" stroke="#111" stroke-width="0.2">-0.5</text>
<line x1="476.20" y1="376.50" x2="478.80" y2="376.50" stroke="#111" stroke-width="1.0"/>
<text transform="translate(475.30,377.92) scale(1,1.08)" font-size="4.9" font-weight="bold" text-anchor="end" fill="#111" stroke="#111" stroke-width="0.2">-0.6</text>
<line x1="487.50" y1="383.60" x2="487.50" y2="385.80" stroke="#111" stroke-width="1.0"/>
<text transform="translate(487.90,390.60) scale(1,1.08)" font-size="5.6" font-weight="bold" text-anchor="middle" fill="#1a1a1a" stroke="#1a1a1a" stroke-width="0.25">S</text>
<line x1="506.50" y1="383.60" x2="506.50" y2="385.80" stroke="#111" stroke-width="1.0"/>
<text transform="translate(506.50,390.60) scale(1,1.08)" font-size="5.6" font-weight="bold" text-anchor="middle" fill="#1a1a1a" stroke="#1a1a1a" stroke-width="0.25">R</text>
<circle cx="484.50" cy="337.50" r="1.35" fill="#000"/>
<circle cx="487.50" cy="340.50" r="1.35" fill="#000"/>
<circle cx="487.50" cy="349.50" r="1.35" fill="#000"/>
<circle cx="491.50" cy="348.50" r="1.35" fill="#000"/>
<circle cx="487.50" cy="356.50" r="1.35" fill="#000"/>
<circle cx="487.50" cy="379.50" r="1.35" fill="#000"/>
<circle cx="506.50" cy="313.50" r="1.15" fill="none" stroke="#111" stroke-width="0.9"/>
<circle cx="506.50" cy="324.50" r="1.15" fill="none" stroke="#111" stroke-width="0.9"/>
<circle cx="506.50" cy="327.50" r="1.15" fill="none" stroke="#111" stroke-width="0.9"/>
<circle cx="510.50" cy="328.50" r="1.15" fill="none" stroke="#111" stroke-width="0.9"/>
<circle cx="506.50" cy="331.50" r="1.15" fill="none" stroke="#111" stroke-width="0.9"/>
<circle cx="506.50" cy="337.50" r="1.15" fill="none" stroke="#111" stroke-width="0.9"/>
<circle cx="506.50" cy="366.50" r="1.15" fill="none" stroke="#111" stroke-width="0.9"/>
<line x1="481.30" y1="352.50" x2="494.40" y2="352.50" stroke="#333" stroke-width="1.0"/>
<line x1="502.10" y1="332.50" x2="513.00" y2="332.50" stroke="#777" stroke-width="1.0"/>
<rect x="478.50" y="310.50" width="37.00" height="73.00" fill="none" stroke="#000" stroke-width="1.2"/>
<text transform="translate(31.55,412.30) scale(1,1.04)" font-size="6.1" font-weight="bold" text-anchor="middle" fill="#111" stroke="#111" stroke-width="0.28">p-PLD1 (S561)</text>
<line x1="13.20" y1="435.50" x2="49.90" y2="435.50" stroke="#c2c2c2" stroke-width="1.5"/>
<line x1="10.60" y1="420.50" x2="13.20" y2="420.50" stroke="#111" stroke-width="1.0"/>
<text transform="translate(9.70,422.60) scale(1,1.08)" font-size="4.9" font-weight="bold" text-anchor="end" fill="#111" stroke="#111" stroke-width="0.2">0.5</text>
<line x1="10.60" y1="435.50" x2="13.20" y2="435.50" stroke="#111" stroke-width="1.0"/>
<text transform="translate(9.70,437.28) scale(1,1.08)" font-size="4.9" font-weight="bold" text-anchor="end" fill="#111" stroke="#111" stroke-width="0.2">0.0</text>
<line x1="10.60" y1="450.50" x2="13.20" y2="450.50" stroke="#111" stroke-width="1.0"/>
<text transform="translate(9.70,451.96) scale(1,1.08)" font-size="4.9" font-weight="bold" text-anchor="end" fill="#111" stroke="#111" stroke-width="0.2">-0.5</text>
<line x1="10.60" y1="464.50" x2="13.20" y2="464.50" stroke="#111" stroke-width="1.0"/>
<text transform="translate(9.70,466.64) scale(1,1.08)" font-size="4.9" font-weight="bold" text-anchor="end" fill="#111" stroke="#111" stroke-width="0.2">-1.0</text>
<line x1="10.60" y1="479.50" x2="13.20" y2="479.50" stroke="#111" stroke-width="1.0"/>
<text transform="translate(9.70,481.32) scale(1,1.08)" font-size="4.9" font-weight="bold" text-anchor="end" fill="#111" stroke="#111" stroke-width="0.2">-1.5</text>
<line x1="10.60" y1="494.50" x2="13.20" y2="494.50" stroke="#111" stroke-width="1.0"/>
<text transform="translate(9.70,496.00) scale(1,1.08)" font-size="4.9" font-weight="bold" text-anchor="end" fill="#111" stroke="#111" stroke-width="0.2">-2.0</text>
<line x1="22.50" y1="494.50" x2="22.50" y2="496.70" stroke="#111" stroke-width="1.0"/>
<text transform="translate(22.60,501.50) scale(1,1.08)" font-size="5.6" font-weight="bold" text-anchor="middle" fill="#1a1a1a" stroke="#1a1a1a" stroke-width="0.25">S</text>
<line x1="40.50" y1="494.50" x2="40.50" y2="496.70" stroke="#111" stroke-width="1.0"/>
<text transform="translate(40.80,501.50) scale(1,1.08)" font-size="5.6" font-weight="bold" text-anchor="middle" fill="#1a1a1a" stroke="#1a1a1a" stroke-width="0.25">R</text>
<circle cx="22.50" cy="439.50" r="1.35" fill="#000"/>
<circle cx="18.50" cy="443.50" r="1.35" fill="#000"/>
<circle cx="22.50" cy="444.50" r="1.35" fill="#000"/>
<circle cx="22.50" cy="449.50" r="1.35" fill="#000"/>
<circle cx="22.50" cy="458.50" r="1.35" fill="#000"/>
<circle cx="22.50" cy="480.50" r="1.35" fill="#000"/>
<circle cx="40.50" cy="422.50" r="1.15" fill="none" stroke="#111" stroke-width="0.9"/>
<circle cx="37.50" cy="428.50" r="1.15" fill="none" stroke="#111" stroke-width="0.9"/>
<circle cx="40.50" cy="430.50" r="1.35" fill="#000"/>
<circle cx="37.50" cy="433.50" r="1.15" fill="none" stroke="#111" stroke-width="0.9"/>
<circle cx="40.50" cy="433.50" r="1.15" fill="none" stroke="#111" stroke-width="0.9"/>
<circle cx="44.50" cy="433.50" r="1.15" fill="none" stroke="#111" stroke-width="0.9"/>
<line x1="16.80" y1="452.50" x2="28.60" y2="452.50" stroke="#777" stroke-width="1.0"/>
<line x1="34.40" y1="430.50" x2="46.80" y2="430.50" stroke="#333" stroke-width="1.0"/>
<rect x="13.50" y="421.50" width="36.00" height="73.00" fill="none" stroke="#000" stroke-width="1.2"/>
<text transform="translate(120.65,413.10) scale(1,1.04)" font-size="6.1" font-weight="bold" text-anchor="middle" fill="#111" stroke="#111" stroke-width="0.28">p-cPLA2 (S505)</text>
<line x1="102.40" y1="442.50" x2="138.90" y2="442.50" stroke="#c2c2c2" stroke-width="1.5"/>
<line x1="99.80" y1="425.50" x2="102.40" y2="425.50" stroke="#111" stroke-width="1.0"/>
<text transform="translate(98.90,427.30) scale(1,1.08)" font-size="4.9" font-weight="bold" text-anchor="end" fill="#111" stroke="#111" stroke-width="0.2">0.25</text>
<line x1="99.80" y1="442.50" x2="102.40" y2="442.50" stroke="#111" stroke-width="1.0"/>
<text transform="translate(98.90,444.52) scale(1,1.08)" font-size="4.9" font-weight="bold" text-anchor="end" fill="#111" stroke="#111" stroke-width="0.2">0.00</text>
<line x1="99.80" y1="459.50" x2="102.40" y2="459.50" stroke="#111" stroke-width="1.0"/>
<text transform="translate(98.90,461.74) scale(1,1.08)" font-size="4.9" font-weight="bold" text-anchor="end" fill="#111" stroke="#111" stroke-width="0.2">-0.25</text>
<line x1="99.80" y1="477.50" x2="102.40" y2="477.50" stroke="#111" stroke-width="1.0"/>
<text transform="translate(98.90,478.96) scale(1,1.08)" font-size="4.9" font-weight="bold" text-anchor="end" fill="#111" stroke="#111" stroke-width="0.2">-0.50</text>
<line x1="99.80" y1="494.50" x2="102.40" y2="494.50" stroke="#111" stroke-width="1.0"/>
<text transform="translate(98.90,496.18) scale(1,1.08)" font-size="4.9" font-weight="bold" text-anchor="end" fill="#111" stroke="#111" stroke-width="0.2">-0.75</text>
<line x1="111.50" y1="494.50" x2="111.50" y2="496.70" stroke="#111" stroke-width="1.0"/>
<text transform="translate(111.20,501.50) scale(1,1.08)" font-size="5.6" font-weight="bold" text-anchor="middle" fill="#1a1a1a" stroke="#1a1a1a" stroke-width="0.25">S</text>
<line x1="129.50" y1="494.50" x2="129.50" y2="496.70" stroke="#111" stroke-width="1.0"/>
<text transform="translate(129.70,501.50) scale(1,1.08)" font-size="5.6" font-weight="bold" text-anchor="middle" fill="#1a1a1a" stroke="#1a1a1a" stroke-width="0.25">R</text>
<circle cx="111.50" cy="442.50" r="1.35" fill="#000"/>
<circle cx="108.50" cy="456.50" r="1.35" fill="#000"/>
<circle cx="111.50" cy="457.50" r="1.35" fill="#000"/>
<circle cx="111.50" cy="462.50" r="1.35" fill="#000"/>
<circle cx="111.50" cy="476.50" r="1.35" fill="#000"/>
<circle cx="111.50" cy="483.50" r="1.35" fill="#000"/>
<circle cx="129.50" cy="425.50" r="1.15" fill="none" stroke="#111" stroke-width="0.9"/>
<circle cx="126.50" cy="442.50" r="1.35" fill="#000"/>
<circle cx="129.50" cy="443.50" r="1.15" fill="none" stroke="#111" stroke-width="0.9"/>
<circle cx="132.50" cy="444.50" r="1.15" fill="none" stroke="#111" stroke-width="0.9"/>
<circle cx="133.50" cy="447.50" r="1.15" fill="none" stroke="#111" stroke-width="0.9"/>
<circle cx="129.50" cy="449.50" r="1.15" fill="none" stroke="#111" stroke-width="0.9"/>
<line x1="105.00" y1="463.50" x2="117.70" y2="463.50" stroke="#333" stroke-width="1.0"/>
<line x1="123.70" y1="441.50" x2="135.50" y2="441.50" stroke="#333" stroke-width="1.0"/>
<rect x="102.50" y="421.50" width="36.00" height="73.00" fill="none" stroke="#000" stroke-width="1.2"/>
<text transform="translate(210.30,413.10) scale(1,1.04)" font-size="6.1" font-weight="bold" text-anchor="middle" fill="#111" stroke="#111" stroke-width="0.28">p-SHIP1 (Y1020)</text>
<line x1="191.80" y1="439.50" x2="228.80" y2="439.50" stroke="#c2c2c2" stroke-width="1.5"/>
<line x1="189.20" y1="421.50" x2="191.80" y2="421.50" stroke="#111" stroke-width="1.0"/>
<text transform="translate(188.30,423.60) scale(1,1.08)" font-size="4.9" font-weight="bold" text-anchor="end" fill="#111" stroke="#111" stroke-width="0.2">0.15</text>
<line x1="189.20" y1="427.50" x2="191.80" y2="427.50" stroke="#111" stroke-width="1.0"/>
<text transform="translate(188.30,429.70) scale(1,1.08)" font-size="4.9" font-weight="bold" text-anchor="end" fill="#111" stroke="#111" stroke-width="0.2">0.10</text>
<line x1="189.20" y1="434.50" x2="191.80" y2="434.50" stroke="#111" stroke-width="1.0"/>
<text transform="translate(188.30,435.80) scale(1,1.08)" font-size="4.9" font-weight="bold" text-anchor="end" fill="#111" stroke="#111" stroke-width="0.2">0.05</text>
<line x1="189.20" y1="440.50" x2="191.80" y2="440.50" stroke="#111" stroke-width="1.0"/>
<text transform="translate(188.30,441.90) scale(1,1.08)" font-size="4.9" font-weight="bold" text-anchor="end" fill="#111" stroke="#111" stroke-width="0.2">-0.00</text>
<line x1="189.20" y1="446.50" x2="191.80" y2="446.50" stroke="#111" stroke-width="1.0"/>
<text transform="translate(188.30,448.00) scale(1,1.08)" font-size="4.9" font-weight="bold" text-anchor="end" fill="#111" stroke="#111" stroke-width="0.2">-0.05</text>
<line x1="189.20" y1="452.50" x2="191.80" y2="452.50" stroke="#111" stroke-width="1.0"/>
<text transform="translate(188.30,454.10) scale(1,1.08)" font-size="4.9" font-weight="bold" text-anchor="end" fill="#111" stroke="#111" stroke-width="0.2">-0.10</text>
<line x1="189.20" y1="458.50" x2="191.80" y2="458.50" stroke="#111" stroke-width="1.0"/>
<text transform="translate(188.30,460.20) scale(1,1.08)" font-size="4.9" font-weight="bold" text-anchor="end" fill="#111" stroke="#111" stroke-width="0.2">-0.15</text>
<line x1="189.20" y1="464.50" x2="191.80" y2="464.50" stroke="#111" stroke-width="1.0"/>
<text transform="translate(188.30,466.30) scale(1,1.08)" font-size="4.9" font-weight="bold" text-anchor="end" fill="#111" stroke="#111" stroke-width="0.2">-0.20</text>
<line x1="189.20" y1="470.50" x2="191.80" y2="470.50" stroke="#111" stroke-width="1.0"/>
<text transform="translate(188.30,472.40) scale(1,1.08)" font-size="4.9" font-weight="bold" text-anchor="end" fill="#111" stroke="#111" stroke-width="0.2">-0.25</text>
<line x1="189.20" y1="476.50" x2="191.80" y2="476.50" stroke="#111" stroke-width="1.0"/>
<text transform="translate(188.30,478.50) scale(1,1.08)" font-size="4.9" font-weight="bold" text-anchor="end" fill="#111" stroke="#111" stroke-width="0.2">-0.30</text>
<line x1="189.20" y1="482.50" x2="191.80" y2="482.50" stroke="#111" stroke-width="1.0"/>
<text transform="translate(188.30,484.60) scale(1,1.08)" font-size="4.9" font-weight="bold" text-anchor="end" fill="#111" stroke="#111" stroke-width="0.2">-0.35</text>
<line x1="189.20" y1="488.50" x2="191.80" y2="488.50" stroke="#111" stroke-width="1.0"/>
<text transform="translate(188.30,490.70) scale(1,1.08)" font-size="4.9" font-weight="bold" text-anchor="end" fill="#111" stroke="#111" stroke-width="0.2">-0.40</text>
<line x1="201.50" y1="494.50" x2="201.50" y2="496.70" stroke="#111" stroke-width="1.0"/>
<text transform="translate(201.10,501.50) scale(1,1.08)" font-size="5.6" font-weight="bold" text-anchor="middle" fill="#1a1a1a" stroke="#1a1a1a" stroke-width="0.25">S</text>
<line x1="219.50" y1="494.50" x2="219.50" y2="496.70" stroke="#111" stroke-width="1.0"/>
<text transform="translate(219.40,501.50) scale(1,1.08)" font-size="5.6" font-weight="bold" text-anchor="middle" fill="#1a1a1a" stroke="#1a1a1a" stroke-width="0.25">R</text>
<circle cx="201.50" cy="439.50" r="1.35" fill="#000"/>
<circle cx="201.50" cy="450.50" r="1.35" fill="#000"/>
<circle cx="201.50" cy="467.50" r="1.35" fill="#000"/>
<circle cx="204.50" cy="465.50" r="1.35" fill="#000"/>
<circle cx="201.50" cy="470.50" r="1.35" fill="#000"/>
<circle cx="201.50" cy="489.50" r="1.35" fill="#000"/>
<circle cx="219.50" cy="425.50" r="1.15" fill="none" stroke="#111" stroke-width="0.9"/>
<circle cx="216.50" cy="437.50" r="1.15" fill="none" stroke="#111" stroke-width="0.9"/>
<circle cx="219.50" cy="436.50" r="1.15" fill="none" stroke="#111" stroke-width="0.9"/>
<circle cx="222.50" cy="437.50" r="1.15" fill="none" stroke="#111" stroke-width="0.9"/>
<circle cx="219.50" cy="443.50" r="1.15" fill="none" stroke="#111" stroke-width="0.9"/>
<circle cx="219.50" cy="451.50" r="1.15" fill="none" stroke="#111" stroke-width="0.9"/>
<line x1="194.70" y1="463.50" x2="208.00" y2="463.50" stroke="#333" stroke-width="1.0"/>
<line x1="213.40" y1="439.50" x2="225.60" y2="439.50" stroke="#333" stroke-width="1.0"/>
<rect x="191.50" y="421.50" width="37.00" height="73.00" fill="none" stroke="#000" stroke-width="1.2"/>
<text transform="translate(280.40,412.30) scale(1,1.04)" font-size="6.1" font-weight="bold" text-anchor="middle" fill="#111" stroke="#111" stroke-width="0.28">p-MLK3 (T277/S281)</text>
<line x1="262.00" y1="433.50" x2="298.80" y2="433.50" stroke="#c2c2c2" stroke-width="1.5"/>
<line x1="259.40" y1="420.50" x2="262.00" y2="420.50" stroke="#111" stroke-width="1.0"/>
<text transform="translate(258.50,422.60) scale(1,1.08)" font-size="4.9" font-weight="bold" text-anchor="end" fill="#111" stroke="#111" stroke-width="0.2">0.5</text>
<line x1="259.40" y1="433.50" x2="262.00" y2="433.50" stroke="#111" stroke-width="1.0"/>
<text transform="translate(258.50,434.87) scale(1,1.08)" font-size="4.9" font-weight="bold" text-anchor="end" fill="#111" stroke="#111" stroke-width="0.2">0.0</text>
<line x1="259.40" y1="445.50" x2="262.00" y2="445.50" stroke="#111" stroke-width="1.0"/>
<text transform="translate(258.50,447.14) scale(1,1.08)" font-size="4.9" font-weight="bold" text-anchor="end" fill="#111" stroke="#111" stroke-width="0.2">-0.5</text>
<line x1="259.40" y1="457.50" x2="262.00" y2="457.50" stroke="#111" stroke-width="1.0"/>
<text transform="translate(258.50,459.41) scale(1,1.08)" font-size="4.9" font-weight="bold" text-anchor="end" fill="#111" stroke="#111" stroke-width="0.2">-1.0</text>
<line x1="259.40" y1="469.50" x2="262.00" y2="469.50" stroke="#111" stroke-width="1.0"/>
<text transform="translate(258.50,471.68) scale(1,1.08)" font-size="4.9" font-weight="bold" text-anchor="end" fill="#111" stroke="#111" stroke-width="0.2">-1.5</text>
<line x1="259.40" y1="482.50" x2="262.00" y2="482.50" stroke="#111" stroke-width="1.0"/>
<text transform="translate(258.50,483.95) scale(1,1.08)" font-size="4.9" font-weight="bold" text-anchor="end" fill="#111" stroke="#111" stroke-width="0.2">-2.0</text>
<line x1="259.40" y1="494.50" x2="262.00" y2="494.50" stroke="#111" stroke-width="1.0"/>
<text transform="translate(258.50,496.22) scale(1,1.08)" font-size="4.9" font-weight="bold" text-anchor="end" fill="#111" stroke="#111" stroke-width="0.2">-2.5</text>
<line x1="271.50" y1="494.50" x2="271.50" y2="496.70" stroke="#111" stroke-width="1.0"/>
<text transform="translate(271.20,501.50) scale(1,1.08)" font-size="5.6" font-weight="bold" text-anchor="middle" fill="#1a1a1a" stroke="#1a1a1a" stroke-width="0.25">S</text>
<line x1="289.50" y1="494.50" x2="289.50" y2="496.70" stroke="#111" stroke-width="1.0"/>
<text transform="translate(289.70,501.50) scale(1,1.08)" font-size="5.6" font-weight="bold" text-anchor="middle" fill="#1a1a1a" stroke="#1a1a1a" stroke-width="0.25">R</text>
<circle cx="271.50" cy="440.50" r="1.35" fill="#000"/>
<circle cx="271.50" cy="445.50" r="1.35" fill="#000"/>
<circle cx="274.50" cy="447.50" r="1.35" fill="#000"/>
<circle cx="271.50" cy="448.50" r="1.35" fill="#000"/>
<circle cx="271.50" cy="458.50" r="1.35" fill="#000"/>
<circle cx="271.50" cy="491.50" r="1.35" fill="#000"/>
<circle cx="289.50" cy="429.50" r="1.15" fill="none" stroke="#111" stroke-width="0.9"/>
<circle cx="292.50" cy="429.50" r="1.15" fill="none" stroke="#111" stroke-width="0.9"/>
<circle cx="286.50" cy="433.50" r="1.15" fill="none" stroke="#111" stroke-width="0.9"/>
<circle cx="289.50" cy="433.50" r="1.15" fill="none" stroke="#111" stroke-width="0.9"/>
<circle cx="286.50" cy="437.50" r="1.15" fill="none" stroke="#111" stroke-width="0.9"/>
<circle cx="289.50" cy="438.50" r="1.15" fill="none" stroke="#111" stroke-width="0.9"/>
<circle cx="292.50" cy="438.50" r="1.15" fill="none" stroke="#111" stroke-width="0.9"/>
<line x1="265.40" y1="455.50" x2="277.70" y2="455.50" stroke="#333" stroke-width="1.0"/>
<line x1="283.70" y1="433.50" x2="296.20" y2="433.50" stroke="#333" stroke-width="1.0"/>
<rect x="262.50" y="421.50" width="36.00" height="73.00" fill="none" stroke="#000" stroke-width="1.2"/>
<text transform="translate(355.10,412.10) scale(1,1.04)" font-size="6.1" font-weight="bold" text-anchor="middle" fill="#111" stroke="#111" stroke-width="0.28">p-SEK1/MKK4 (T261)</text>
<line x1="336.60" y1="445.50" x2="373.60" y2="445.50" stroke="#c2c2c2" stroke-width="1.5"/>
<line x1="334.00" y1="421.50" x2="336.60" y2="421.50" stroke="#111" stroke-width="1.0"/>
<text transform="translate(333.10,423.00) scale(1,1.08)" font-size="4.9" font-weight="bold" text-anchor="end" fill="#111" stroke="#111" stroke-width="0.2">1.0</text>
<line x1="334.00" y1="433.50" x2="336.60" y2="433.50" stroke="#111" stroke-width="1.0"/>
<text transform="translate(333.10,435.28) scale(1,1.08)" font-size="4.9" font-weight="bold" text-anchor="end" fill="#111" stroke="#111" stroke-width="0.2">0.5</text>
<line x1="334.00" y1="445.50" x2="336.60" y2="445.50" stroke="#111" stroke-width="1.0"/>
<text transform="translate(333.10,447.56) scale(1,1.08)" font-size="4.9" font-weight="bold" text-anchor="end" fill="#111" stroke="#111" stroke-width="0.2">0.0</text>
<line x1="334.00" y1="458.50" x2="336.60" y2="458.50" stroke="#111" stroke-width="1.0"/>
<text transform="translate(333.10,459.84) scale(1,1.08)" font-size="4.9" font-weight="bold" text-anchor="end" fill="#111" stroke="#111" stroke-width="0.2">-0.5</text>
<line x1="334.00" y1="470.50" x2="336.60" y2="470.50" stroke="#111" stroke-width="1.0"/>
<text transform="translate(333.10,472.12) scale(1,1.08)" font-size="4.9" font-weight="bold" text-anchor="end" fill="#111" stroke="#111" stroke-width="0.2">-1.0</text>
<line x1="334.00" y1="482.50" x2="336.60" y2="482.50" stroke="#111" stroke-width="1.0"/>
<text transform="translate(333.10,484.40) scale(1,1.08)" font-size="4.9" font-weight="bold" text-anchor="end" fill="#111" stroke="#111" stroke-width="0.2">-1.5</text>
<line x1="334.00" y1="494.50" x2="336.60" y2="494.50" stroke="#111" stroke-width="1.0"/>
<text transform="translate(333.10,496.68) scale(1,1.08)" font-size="4.9" font-weight="bold" text-anchor="end" fill="#111" stroke="#111" stroke-width="0.2">-2.0</text>
<line x1="345.50" y1="494.50" x2="345.50" y2="496.70" stroke="#111" stroke-width="1.0"/>
<text transform="translate(345.70,501.50) scale(1,1.08)" font-size="5.6" font-weight="bold" text-anchor="middle" fill="#1a1a1a" stroke="#1a1a1a" stroke-width="0.25">S</text>
<line x1="364.50" y1="494.50" x2="364.50" y2="496.70" stroke="#111" stroke-width="1.0"/>
<text transform="translate(364.00,501.50) scale(1,1.08)" font-size="5.6" font-weight="bold" text-anchor="middle" fill="#1a1a1a" stroke="#1a1a1a" stroke-width="0.25">R</text>
<circle cx="345.50" cy="440.50" r="1.35" fill="#000"/>
<circle cx="345.50" cy="448.50" r="1.35" fill="#000"/>
<circle cx="342.50" cy="451.50" r="1.35" fill="#000"/>
<circle cx="349.50" cy="449.50" r="1.35" fill="#000"/>
<circle cx="345.50" cy="453.50" r="1.35" fill="#000"/>
<circle cx="345.50" cy="482.50" r="1.35" fill="#000"/>
<circle cx="364.50" cy="424.50" r="1.15" fill="none" stroke="#111" stroke-width="0.9"/>
<circle cx="364.50" cy="428.50" r="1.15" fill="none" stroke="#111" stroke-width="0.9"/>
<circle cx="360.50" cy="435.50" r="1.15" fill="none" stroke="#111" stroke-width="0.9"/>
<circle cx="364.50" cy="436.50" r="1.35" fill="#000"/>
<circle cx="360.50" cy="444.50" r="1.5" fill="#777"/>
<circle cx="364.50" cy="446.50" r="1.15" fill="none" stroke="#111" stroke-width="0.9"/>
<circle cx="367.50" cy="444.50" r="1.15" fill="none" stroke="#111" stroke-width="0.9"/>
<line x1="339.70" y1="454.50" x2="352.00" y2="454.50" stroke="#333" stroke-width="1.0"/>
<line x1="358.50" y1="437.50" x2="370.80" y2="437.50" stroke="#333" stroke-width="1.0"/>
<rect x="336.50" y="420.50" width="37.00" height="74.00" fill="none" stroke="#000" stroke-width="1.2"/>
<text transform="translate(427.40,412.30) scale(1,1.04)" font-size="6.1" font-weight="bold" text-anchor="middle" fill="#111" stroke="#111" stroke-width="0.28">p-Bcl-2 (S70)</text>
<line x1="409.00" y1="437.50" x2="445.80" y2="437.50" stroke="#c2c2c2" stroke-width="1.5"/>
<line x1="406.40" y1="421.50" x2="409.00" y2="421.50" stroke="#111" stroke-width="1.0"/>
<text transform="translate(405.50,423.00) scale(1,1.08)" font-size="4.9" font-weight="bold" text-anchor="end" fill="#111" stroke="#111" stroke-width="0.2">0.2</text>
<line x1="406.40" y1="429.50" x2="409.00" y2="429.50" stroke="#111" stroke-width="1.0"/>
<text transform="translate(405.50,431.14) scale(1,1.08)" font-size="4.9" font-weight="bold" text-anchor="end" fill="#111" stroke="#111" stroke-width="0.2">0.1</text>
<line x1="406.40" y1="437.50" x2="409.00" y2="437.50" stroke="#111" stroke-width="1.0"/>
<text transform="translate(405.50,439.28) scale(1,1.08)" font-size="4.9" font-weight="bold" text-anchor="end" fill="#111" stroke="#111" stroke-width="0.2">-0.0</text>
<line x1="406.40" y1="445.50" x2="409.00" y2="445.50" stroke="#111" stroke-width="1.0"/>
<text transform="translate(405.50,447.42) scale(1,1.08)" font-size="4.9" font-weight="bold" text-anchor="end" fill="#111" stroke="#111" stroke-width="0.2">-0.1</text>
<line x1="406.40" y1="453.50" x2="409.00" y2="453.50" stroke="#111" stroke-width="1.0"/>
<text transform="translate(405.50,455.56) scale(1,1.08)" font-size="4.9" font-weight="bold" text-anchor="end" fill="#111" stroke="#111" stroke-width="0.2">-0.2</text>
<line x1="406.40" y1="461.50" x2="409.00" y2="461.50" stroke="#111" stroke-width="1.0"/>
<text transform="translate(405.50,463.70) scale(1,1.08)" font-size="4.9" font-weight="bold" text-anchor="end" fill="#111" stroke="#111" stroke-width="0.2">-0.3</text>
<line x1="406.40" y1="470.50" x2="409.00" y2="470.50" stroke="#111" stroke-width="1.0"/>
<text transform="translate(405.50,471.84) scale(1,1.08)" font-size="4.9" font-weight="bold" text-anchor="end" fill="#111" stroke="#111" stroke-width="0.2">-0.4</text>
<line x1="406.40" y1="478.50" x2="409.00" y2="478.50" stroke="#111" stroke-width="1.0"/>
<text transform="translate(405.50,479.98) scale(1,1.08)" font-size="4.9" font-weight="bold" text-anchor="end" fill="#111" stroke="#111" stroke-width="0.2">-0.5</text>
<line x1="406.40" y1="486.50" x2="409.00" y2="486.50" stroke="#111" stroke-width="1.0"/>
<text transform="translate(405.50,488.12) scale(1,1.08)" font-size="4.9" font-weight="bold" text-anchor="end" fill="#111" stroke="#111" stroke-width="0.2">-0.6</text>
<line x1="418.50" y1="494.50" x2="418.50" y2="496.70" stroke="#111" stroke-width="1.0"/>
<text transform="translate(418.20,501.50) scale(1,1.08)" font-size="5.6" font-weight="bold" text-anchor="middle" fill="#1a1a1a" stroke="#1a1a1a" stroke-width="0.25">S</text>
<line x1="436.50" y1="494.50" x2="436.50" y2="496.70" stroke="#111" stroke-width="1.0"/>
<text transform="translate(436.50,501.50) scale(1,1.08)" font-size="5.6" font-weight="bold" text-anchor="middle" fill="#1a1a1a" stroke="#1a1a1a" stroke-width="0.25">R</text>
<circle cx="418.50" cy="444.50" r="1.35" fill="#000"/>
<circle cx="418.50" cy="455.50" r="1.35" fill="#000"/>
<circle cx="415.50" cy="482.50" r="1.35" fill="#000"/>
<circle cx="418.50" cy="482.50" r="1.35" fill="#000"/>
<circle cx="418.50" cy="489.50" r="1.35" fill="#000"/>
<circle cx="421.50" cy="489.50" r="1.35" fill="#000"/>
<circle cx="436.50" cy="428.50" r="1.15" fill="none" stroke="#111" stroke-width="0.9"/>
<circle cx="436.50" cy="434.50" r="1.15" fill="none" stroke="#111" stroke-width="0.9"/>
<circle cx="433.50" cy="438.50" r="1.15" fill="none" stroke="#111" stroke-width="0.9"/>
<circle cx="436.50" cy="439.50" r="1.15" fill="none" stroke="#111" stroke-width="0.9"/>
<circle cx="436.50" cy="456.50" r="1.15" fill="none" stroke="#111" stroke-width="0.9"/>
<circle cx="436.50" cy="465.50" r="1.15" fill="none" stroke="#111" stroke-width="0.9"/>
<circle cx="436.50" cy="472.50" r="1.15" fill="none" stroke="#111" stroke-width="0.9"/>
<line x1="411.80" y1="473.50" x2="424.70" y2="473.50" stroke="#777" stroke-width="1.0"/>
<line x1="430.50" y1="447.50" x2="442.70" y2="447.50" stroke="#777" stroke-width="1.0"/>
<rect x="409.50" y="421.50" width="36.00" height="73.00" fill="none" stroke="#000" stroke-width="1.2"/>
</g>
</svg>
</body></html>
